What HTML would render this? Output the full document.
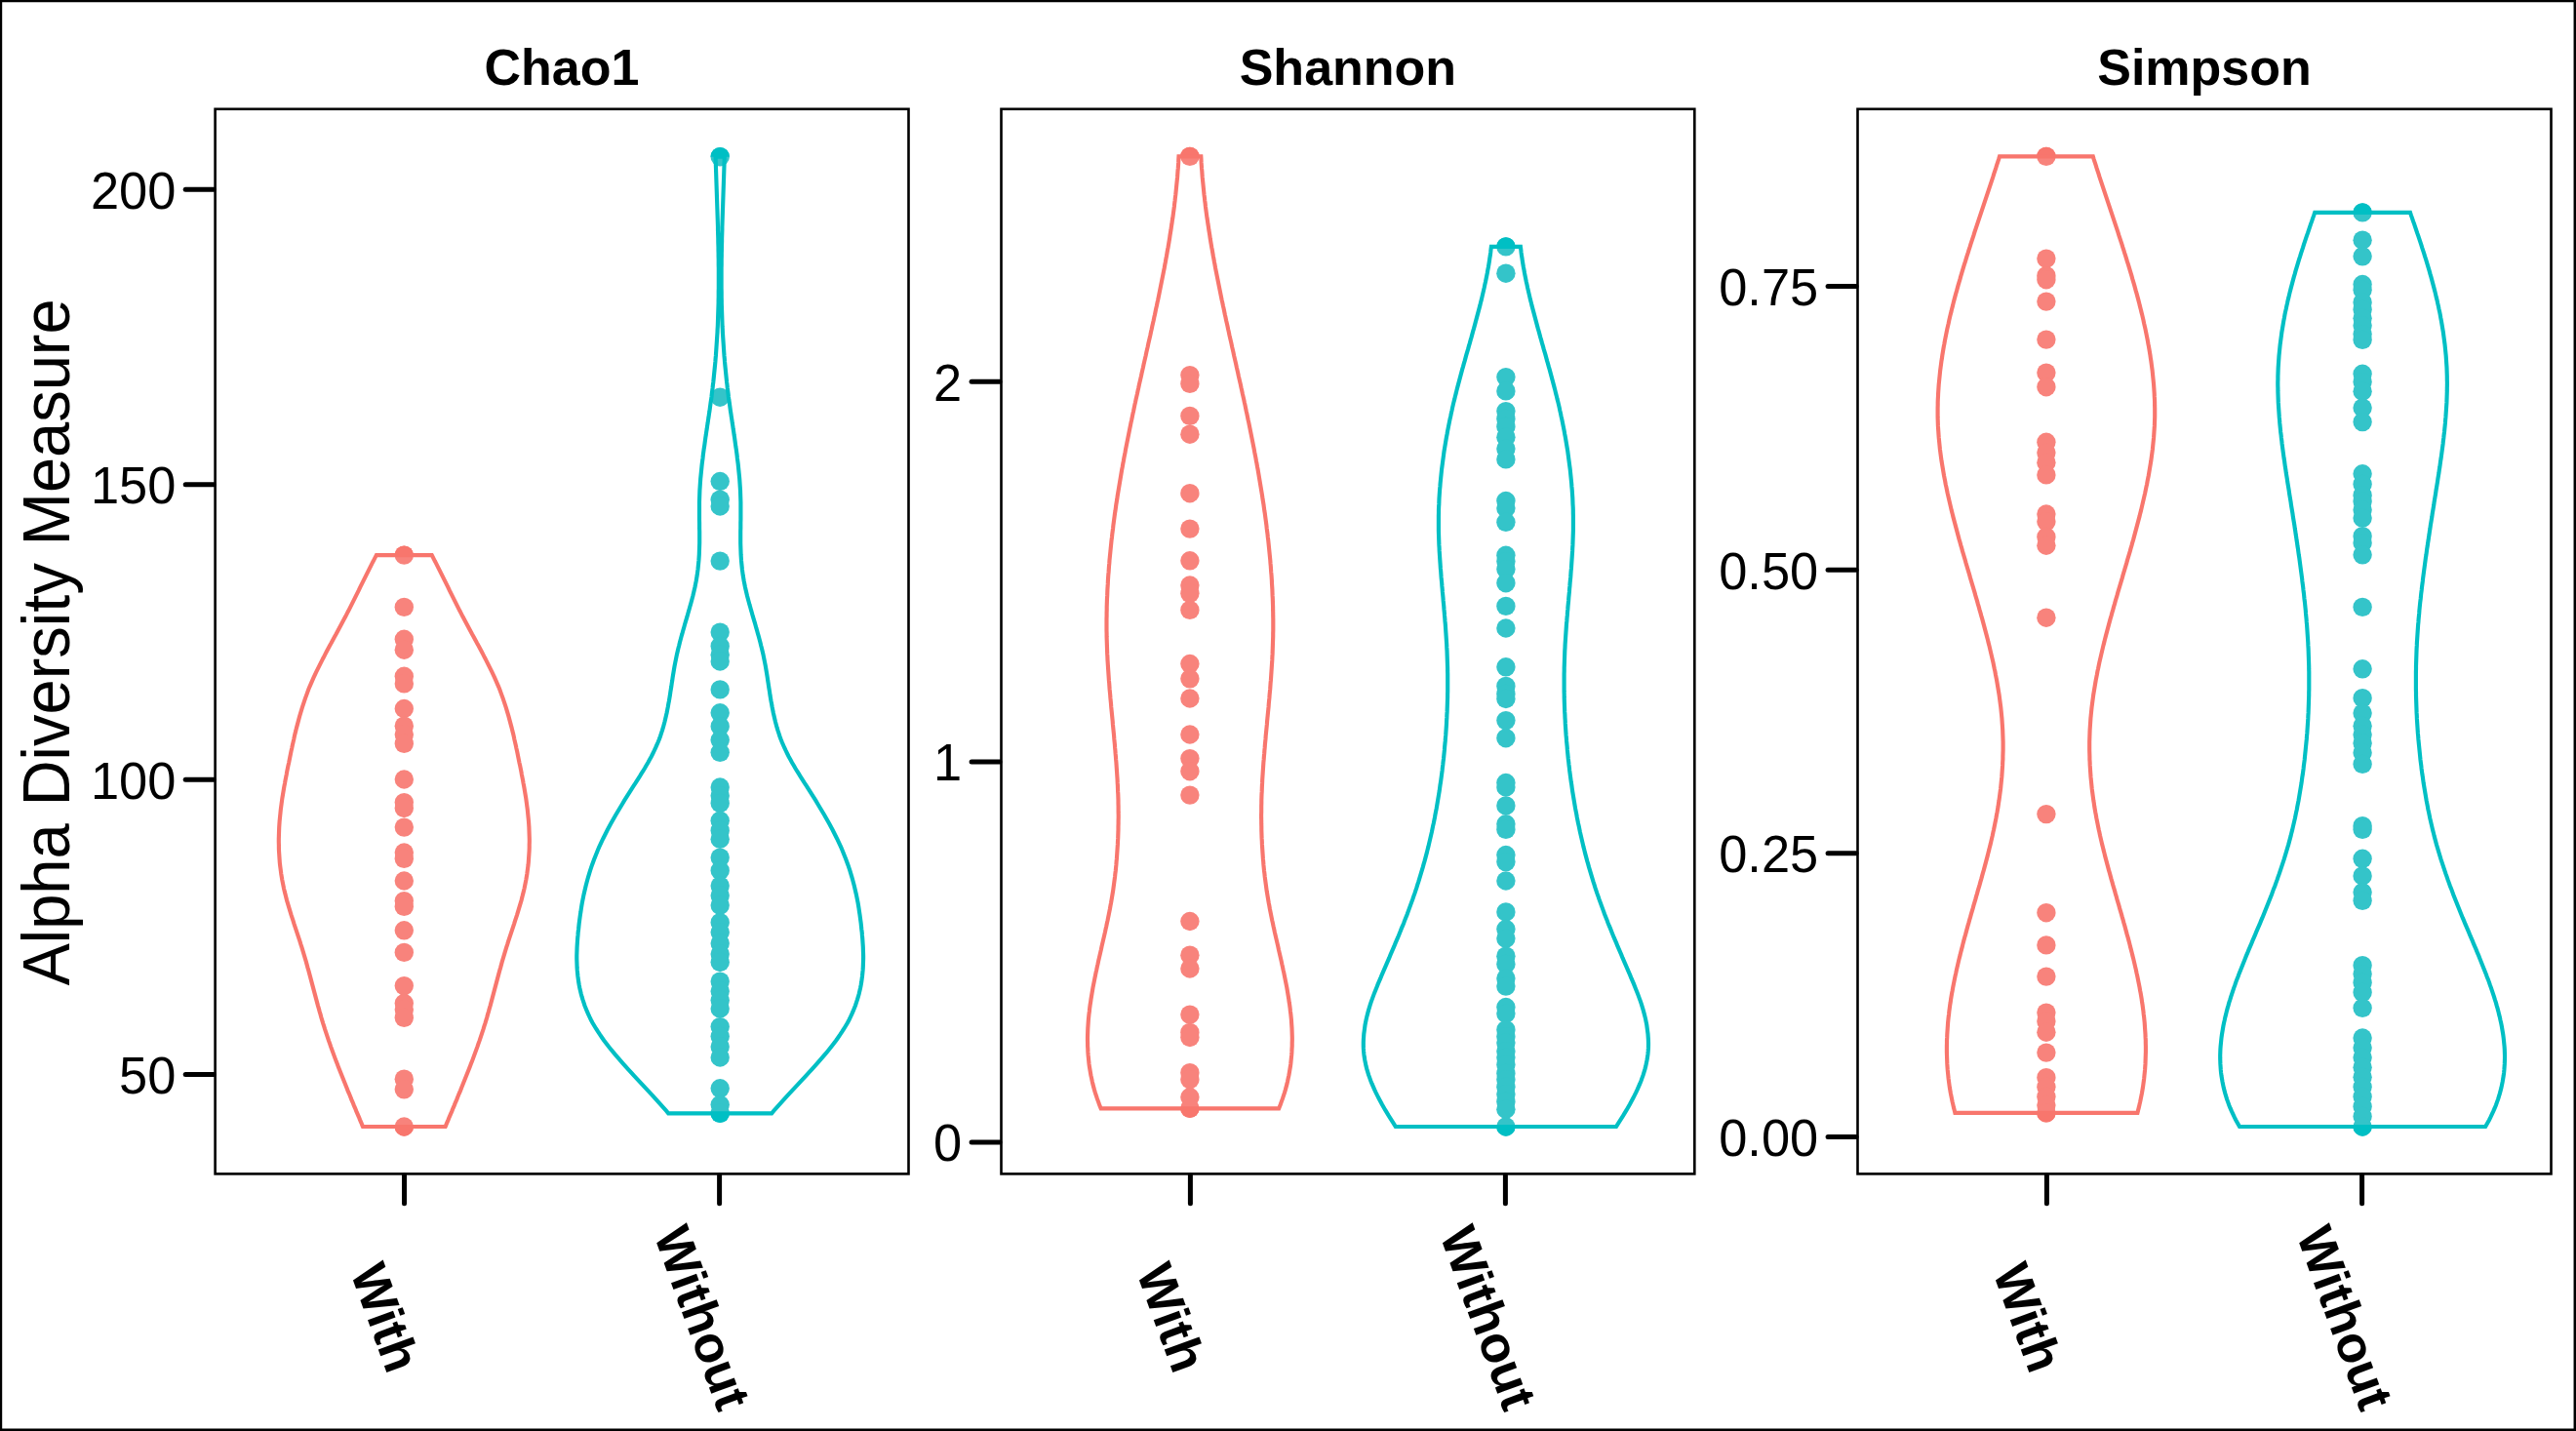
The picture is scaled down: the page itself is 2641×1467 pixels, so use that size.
<!DOCTYPE html>
<html><head><meta charset="utf-8"><title>Alpha Diversity Measure</title>
<style>html,body{margin:0;padding:0;background:#fff}svg{display:block}text{font-family:"Liberation Sans",sans-serif;fill:#000}.b{font-weight:bold}</style></head><body>
<svg xmlns="http://www.w3.org/2000/svg" width="2641" height="1467" viewBox="0 0 2641 1467">
<rect x="0" y="0" width="2641" height="1467" fill="#fff"/>
<path d="M0,0H2641V1467H0Z M2.2,2.2V1464.55H2638.55V2.2Z" fill="#000" fill-rule="evenodd"/>
<text transform="translate(70.6,658.5) rotate(-90) scale(1,1.05)" text-anchor="middle" font-size="65">Alpha Diversity Measure</text>
<text class="b" x="576.0" y="87" text-anchor="middle" font-size="52">Chao1</text>
<line x1="190.2" y1="194.3" x2="219.1" y2="194.3" stroke="#000" stroke-width="5.0" stroke-linecap="round"/>
<text transform="translate(180.3,213.7) scale(1,1.028)" text-anchor="end" font-size="52.4">200</text>
<line x1="190.2" y1="496.7" x2="219.1" y2="496.7" stroke="#000" stroke-width="5.0" stroke-linecap="round"/>
<text transform="translate(180.3,516.1) scale(1,1.028)" text-anchor="end" font-size="52.4">150</text>
<line x1="190.2" y1="799.2" x2="219.1" y2="799.2" stroke="#000" stroke-width="5.0" stroke-linecap="round"/>
<text transform="translate(180.3,818.6) scale(1,1.028)" text-anchor="end" font-size="52.4">100</text>
<line x1="190.2" y1="1101.6" x2="219.1" y2="1101.6" stroke="#000" stroke-width="5.0" stroke-linecap="round"/>
<text transform="translate(180.3,1121.0) scale(1,1.028)" text-anchor="end" font-size="52.4">50</text>
<text class="b" x="1381.9" y="87" text-anchor="middle" font-size="52">Shannon</text>
<line x1="996.1" y1="391.2" x2="1025.0" y2="391.2" stroke="#000" stroke-width="5.0" stroke-linecap="round"/>
<text transform="translate(986.2,410.6) scale(1,1.028)" text-anchor="end" font-size="52.4">2</text>
<line x1="996.1" y1="781.05" x2="1025.0" y2="781.05" stroke="#000" stroke-width="5.0" stroke-linecap="round"/>
<text transform="translate(986.2,800.4) scale(1,1.028)" text-anchor="end" font-size="52.4">1</text>
<line x1="996.1" y1="1170.9" x2="1025.0" y2="1170.9" stroke="#000" stroke-width="5.0" stroke-linecap="round"/>
<text transform="translate(986.2,1190.3) scale(1,1.028)" text-anchor="end" font-size="52.4">0</text>
<text class="b" x="2260.0" y="87" text-anchor="middle" font-size="52">Simpson</text>
<line x1="1874.1" y1="293.5" x2="1903.0" y2="293.5" stroke="#000" stroke-width="5.0" stroke-linecap="round"/>
<text transform="translate(1864.2,312.9) scale(1,1.028)" text-anchor="end" font-size="52.4">0.75</text>
<line x1="1874.1" y1="584.2" x2="1903.0" y2="584.2" stroke="#000" stroke-width="5.0" stroke-linecap="round"/>
<text transform="translate(1864.2,603.6) scale(1,1.028)" text-anchor="end" font-size="52.4">0.50</text>
<line x1="1874.1" y1="874.8" x2="1903.0" y2="874.8" stroke="#000" stroke-width="5.0" stroke-linecap="round"/>
<text transform="translate(1864.2,894.2) scale(1,1.028)" text-anchor="end" font-size="52.4">0.25</text>
<line x1="1874.1" y1="1165.5" x2="1903.0" y2="1165.5" stroke="#000" stroke-width="5.0" stroke-linecap="round"/>
<text transform="translate(1864.2,1184.9) scale(1,1.028)" text-anchor="end" font-size="52.4">0.00</text>
<g fill="#F8837C">
<circle cx="414.3" cy="569.1" r="9.7"/>
<circle cx="414.3" cy="622.4" r="9.7"/>
<circle cx="414.3" cy="655.3" r="9.7"/>
<circle cx="414.3" cy="666.2" r="9.7"/>
<circle cx="414.3" cy="693.3" r="9.7"/>
<circle cx="414.3" cy="700.9" r="9.7"/>
<circle cx="414.3" cy="726.5" r="9.7"/>
<circle cx="414.3" cy="744.2" r="9.7"/>
<circle cx="414.3" cy="753" r="9.7"/>
<circle cx="414.3" cy="762.3" r="9.7"/>
<circle cx="414.3" cy="799" r="9.7"/>
<circle cx="414.3" cy="822.6" r="9.7"/>
<circle cx="414.3" cy="828.5" r="9.7"/>
<circle cx="414.3" cy="848.1" r="9.7"/>
<circle cx="414.3" cy="874" r="9.7"/>
<circle cx="414.3" cy="880.3" r="9.7"/>
<circle cx="414.3" cy="903" r="9.7"/>
<circle cx="414.3" cy="923.6" r="9.7"/>
<circle cx="414.3" cy="929.4" r="9.7"/>
<circle cx="414.3" cy="953.8" r="9.7"/>
<circle cx="414.3" cy="976.4" r="9.7"/>
<circle cx="414.3" cy="1010.6" r="9.7"/>
<circle cx="414.3" cy="1028.5" r="9.7"/>
<circle cx="414.3" cy="1035" r="9.7"/>
<circle cx="414.3" cy="1043.3" r="9.7"/>
<circle cx="414.3" cy="1106.2" r="9.7"/>
<circle cx="414.3" cy="1116.8" r="9.7"/>
<circle cx="414.3" cy="1155.0" r="9.7"/>
</g>
<path d="M404.6,569.1 A9.7,9.7 0 0 1 424.0,569.1 Z" fill="#F8766D"/>
<path d="M404.6,1155.0 A9.7,9.7 0 0 0 424.0,1155.0 Z" fill="#F8766D"/>
<g fill="#34C4C9">
<circle cx="738.2" cy="160.7" r="9.7"/>
<circle cx="738.2" cy="407.2" r="9.7"/>
<circle cx="738.2" cy="493.5" r="9.7"/>
<circle cx="738.2" cy="512.2" r="9.7"/>
<circle cx="738.2" cy="519" r="9.7"/>
<circle cx="738.2" cy="575.1" r="9.7"/>
<circle cx="738.2" cy="648.1" r="9.7"/>
<circle cx="738.2" cy="662.4" r="9.7"/>
<circle cx="738.2" cy="671.2" r="9.7"/>
<circle cx="738.2" cy="678" r="9.7"/>
<circle cx="738.2" cy="706.9" r="9.7"/>
<circle cx="738.2" cy="730.8" r="9.7"/>
<circle cx="738.2" cy="744.7" r="9.7"/>
<circle cx="738.2" cy="758.5" r="9.7"/>
<circle cx="738.2" cy="771.3" r="9.7"/>
<circle cx="738.2" cy="807" r="9.7"/>
<circle cx="738.2" cy="815.8" r="9.7"/>
<circle cx="738.2" cy="823.4" r="9.7"/>
<circle cx="738.2" cy="841.3" r="9.7"/>
<circle cx="738.2" cy="851.4" r="9.7"/>
<circle cx="738.2" cy="860.2" r="9.7"/>
<circle cx="738.2" cy="879.1" r="9.7"/>
<circle cx="738.2" cy="892.4" r="9.7"/>
<circle cx="738.2" cy="908" r="9.7"/>
<circle cx="738.2" cy="918" r="9.7"/>
<circle cx="738.2" cy="928.1" r="9.7"/>
<circle cx="738.2" cy="945.7" r="9.7"/>
<circle cx="738.2" cy="955.8" r="9.7"/>
<circle cx="738.2" cy="967" r="9.7"/>
<circle cx="738.2" cy="978" r="9.7"/>
<circle cx="738.2" cy="986.5" r="9.7"/>
<circle cx="738.2" cy="1006.1" r="9.7"/>
<circle cx="738.2" cy="1016" r="9.7"/>
<circle cx="738.2" cy="1025.5" r="9.7"/>
<circle cx="738.2" cy="1034" r="9.7"/>
<circle cx="738.2" cy="1052.6" r="9.7"/>
<circle cx="738.2" cy="1062.5" r="9.7"/>
<circle cx="738.2" cy="1073" r="9.7"/>
<circle cx="738.2" cy="1084" r="9.7"/>
<circle cx="738.2" cy="1115.8" r="9.7"/>
<circle cx="738.2" cy="1132.5" r="9.7"/>
<circle cx="738.2" cy="1141.3" r="9.7"/>
</g>
<path d="M728.5,160.7 A9.7,9.7 0 0 1 747.9000000000001,160.7 Z" fill="#00BFC4"/>
<path d="M728.5,1141.3 A9.7,9.7 0 0 0 747.9000000000001,1141.3 Z" fill="#00BFC4"/>
<g fill="#F8837C">
<circle cx="1219.9" cy="160.4" r="9.7"/>
<circle cx="1219.9" cy="384.6" r="9.7"/>
<circle cx="1219.9" cy="393.4" r="9.7"/>
<circle cx="1219.9" cy="426.4" r="9.7"/>
<circle cx="1219.9" cy="445.2" r="9.7"/>
<circle cx="1219.9" cy="505.7" r="9.7"/>
<circle cx="1219.9" cy="542.1" r="9.7"/>
<circle cx="1219.9" cy="574.8" r="9.7"/>
<circle cx="1219.9" cy="600" r="9.7"/>
<circle cx="1219.9" cy="608.3" r="9.7"/>
<circle cx="1219.9" cy="625.4" r="9.7"/>
<circle cx="1219.9" cy="680.5" r="9.7"/>
<circle cx="1219.9" cy="695.8" r="9.7"/>
<circle cx="1219.9" cy="716" r="9.7"/>
<circle cx="1219.9" cy="753" r="9.7"/>
<circle cx="1219.9" cy="777.6" r="9.7"/>
<circle cx="1219.9" cy="790.7" r="9.7"/>
<circle cx="1219.9" cy="815.1" r="9.7"/>
<circle cx="1219.9" cy="944.5" r="9.7"/>
<circle cx="1219.9" cy="979.2" r="9.7"/>
<circle cx="1219.9" cy="993" r="9.7"/>
<circle cx="1219.9" cy="1040.1" r="9.7"/>
<circle cx="1219.9" cy="1058.4" r="9.7"/>
<circle cx="1219.9" cy="1063.5" r="9.7"/>
<circle cx="1219.9" cy="1099.7" r="9.7"/>
<circle cx="1219.9" cy="1106.7" r="9.7"/>
<circle cx="1219.9" cy="1124.8" r="9.7"/>
<circle cx="1219.9" cy="1136.2" r="9.7"/>
</g>
<path d="M1210.2,160.4 A9.7,9.7 0 0 1 1229.6000000000001,160.4 Z" fill="#F8766D"/>
<path d="M1210.2,1136.4 A9.7,9.7 0 0 0 1229.6000000000001,1136.4 Z" fill="#F8766D"/>
<g fill="#34C4C9">
<circle cx="1543.9" cy="252.9" r="9.7"/>
<circle cx="1543.9" cy="280.2" r="9.7"/>
<circle cx="1543.9" cy="386.6" r="9.7"/>
<circle cx="1543.9" cy="400.9" r="9.7"/>
<circle cx="1543.9" cy="421.6" r="9.7"/>
<circle cx="1543.9" cy="429.4" r="9.7"/>
<circle cx="1543.9" cy="437.4" r="9.7"/>
<circle cx="1543.9" cy="448.2" r="9.7"/>
<circle cx="1543.9" cy="460.1" r="9.7"/>
<circle cx="1543.9" cy="470.9" r="9.7"/>
<circle cx="1543.9" cy="513.5" r="9.7"/>
<circle cx="1543.9" cy="521" r="9.7"/>
<circle cx="1543.9" cy="535.3" r="9.7"/>
<circle cx="1543.9" cy="569.3" r="9.7"/>
<circle cx="1543.9" cy="575.6" r="9.7"/>
<circle cx="1543.9" cy="583.6" r="9.7"/>
<circle cx="1543.9" cy="597.7" r="9.7"/>
<circle cx="1543.9" cy="621.4" r="9.7"/>
<circle cx="1543.9" cy="644" r="9.7"/>
<circle cx="1543.9" cy="683.8" r="9.7"/>
<circle cx="1543.9" cy="703.4" r="9.7"/>
<circle cx="1543.9" cy="711.4" r="9.7"/>
<circle cx="1543.9" cy="716.5" r="9.7"/>
<circle cx="1543.9" cy="738.6" r="9.7"/>
<circle cx="1543.9" cy="756.7" r="9.7"/>
<circle cx="1543.9" cy="802.5" r="9.7"/>
<circle cx="1543.9" cy="807" r="9.7"/>
<circle cx="1543.9" cy="825.9" r="9.7"/>
<circle cx="1543.9" cy="844.8" r="9.7"/>
<circle cx="1543.9" cy="850.4" r="9.7"/>
<circle cx="1543.9" cy="876.5" r="9.7"/>
<circle cx="1543.9" cy="883.6" r="9.7"/>
<circle cx="1543.9" cy="903" r="9.7"/>
<circle cx="1543.9" cy="934.9" r="9.7"/>
<circle cx="1543.9" cy="952.5" r="9.7"/>
<circle cx="1543.9" cy="962.1" r="9.7"/>
<circle cx="1543.9" cy="980.2" r="9.7"/>
<circle cx="1543.9" cy="988.5" r="9.7"/>
<circle cx="1543.9" cy="1003.1" r="9.7"/>
<circle cx="1543.9" cy="1011.1" r="9.7"/>
<circle cx="1543.9" cy="1032.5" r="9.7"/>
<circle cx="1543.9" cy="1039.1" r="9.7"/>
<circle cx="1543.9" cy="1055.7" r="9.7"/>
<circle cx="1543.9" cy="1062.7" r="9.7"/>
<circle cx="1543.9" cy="1069" r="9.7"/>
<circle cx="1543.9" cy="1077.8" r="9.7"/>
<circle cx="1543.9" cy="1084.1" r="9.7"/>
<circle cx="1543.9" cy="1091.6" r="9.7"/>
<circle cx="1543.9" cy="1100.4" r="9.7"/>
<circle cx="1543.9" cy="1106.7" r="9.7"/>
<circle cx="1543.9" cy="1114.3" r="9.7"/>
<circle cx="1543.9" cy="1121.8" r="9.7"/>
<circle cx="1543.9" cy="1129.4" r="9.7"/>
<circle cx="1543.9" cy="1137.2" r="9.7"/>
<circle cx="1543.9" cy="1155.0" r="9.7"/>
</g>
<path d="M1534.2,252.9 A9.7,9.7 0 0 1 1553.6000000000001,252.9 Z" fill="#00BFC4"/>
<path d="M1534.2,1155.0 A9.7,9.7 0 0 0 1553.6000000000001,1155.0 Z" fill="#00BFC4"/>
<g fill="#F8837C">
<circle cx="2097.9" cy="160.4" r="9.7"/>
<circle cx="2097.9" cy="265.1" r="9.7"/>
<circle cx="2097.9" cy="282.7" r="9.7"/>
<circle cx="2097.9" cy="286.7" r="9.7"/>
<circle cx="2097.9" cy="309.1" r="9.7"/>
<circle cx="2097.9" cy="348.1" r="9.7"/>
<circle cx="2097.9" cy="382.1" r="9.7"/>
<circle cx="2097.9" cy="396.7" r="9.7"/>
<circle cx="2097.9" cy="453.3" r="9.7"/>
<circle cx="2097.9" cy="464.1" r="9.7"/>
<circle cx="2097.9" cy="474.2" r="9.7"/>
<circle cx="2097.9" cy="486.9" r="9.7"/>
<circle cx="2097.9" cy="527" r="9.7"/>
<circle cx="2097.9" cy="534.8" r="9.7"/>
<circle cx="2097.9" cy="550.4" r="9.7"/>
<circle cx="2097.9" cy="559.2" r="9.7"/>
<circle cx="2097.9" cy="633.2" r="9.7"/>
<circle cx="2097.9" cy="834.6" r="9.7"/>
<circle cx="2097.9" cy="935.7" r="9.7"/>
<circle cx="2097.9" cy="968.9" r="9.7"/>
<circle cx="2097.9" cy="1001.1" r="9.7"/>
<circle cx="2097.9" cy="1038.1" r="9.7"/>
<circle cx="2097.9" cy="1046.9" r="9.7"/>
<circle cx="2097.9" cy="1058.2" r="9.7"/>
<circle cx="2097.9" cy="1079.1" r="9.7"/>
<circle cx="2097.9" cy="1104.7" r="9.7"/>
<circle cx="2097.9" cy="1114.3" r="9.7"/>
<circle cx="2097.9" cy="1124.3" r="9.7"/>
<circle cx="2097.9" cy="1133.1" r="9.7"/>
<circle cx="2097.9" cy="1140.9" r="9.7"/>
</g>
<path d="M2088.2000000000003,160.4 A9.7,9.7 0 0 1 2107.6,160.4 Z" fill="#F8766D"/>
<path d="M2088.2000000000003,1140.9 A9.7,9.7 0 0 0 2107.6,1140.9 Z" fill="#F8766D"/>
<g fill="#34C4C9">
<circle cx="2422.1" cy="217.9" r="9.7"/>
<circle cx="2422.1" cy="246.2" r="9.7"/>
<circle cx="2422.1" cy="262.8" r="9.7"/>
<circle cx="2422.1" cy="291.5" r="9.7"/>
<circle cx="2422.1" cy="297.3" r="9.7"/>
<circle cx="2422.1" cy="309.9" r="9.7"/>
<circle cx="2422.1" cy="317.4" r="9.7"/>
<circle cx="2422.1" cy="326.2" r="9.7"/>
<circle cx="2422.1" cy="333.8" r="9.7"/>
<circle cx="2422.1" cy="342.6" r="9.7"/>
<circle cx="2422.1" cy="348.4" r="9.7"/>
<circle cx="2422.1" cy="383.3" r="9.7"/>
<circle cx="2422.1" cy="391.6" r="9.7"/>
<circle cx="2422.1" cy="401.2" r="9.7"/>
<circle cx="2422.1" cy="418.1" r="9.7"/>
<circle cx="2422.1" cy="432.6" r="9.7"/>
<circle cx="2422.1" cy="485.8" r="9.7"/>
<circle cx="2422.1" cy="496.4" r="9.7"/>
<circle cx="2422.1" cy="507.7" r="9.7"/>
<circle cx="2422.1" cy="514" r="9.7"/>
<circle cx="2422.1" cy="522.8" r="9.7"/>
<circle cx="2422.1" cy="531.1" r="9.7"/>
<circle cx="2422.1" cy="549.7" r="9.7"/>
<circle cx="2422.1" cy="556.7" r="9.7"/>
<circle cx="2422.1" cy="568.8" r="9.7"/>
<circle cx="2422.1" cy="622.4" r="9.7"/>
<circle cx="2422.1" cy="685.8" r="9.7"/>
<circle cx="2422.1" cy="715.7" r="9.7"/>
<circle cx="2422.1" cy="731.1" r="9.7"/>
<circle cx="2422.1" cy="744.2" r="9.7"/>
<circle cx="2422.1" cy="753" r="9.7"/>
<circle cx="2422.1" cy="761.8" r="9.7"/>
<circle cx="2422.1" cy="771.8" r="9.7"/>
<circle cx="2422.1" cy="783.4" r="9.7"/>
<circle cx="2422.1" cy="846.7" r="9.7"/>
<circle cx="2422.1" cy="850.4" r="9.7"/>
<circle cx="2422.1" cy="880.3" r="9.7"/>
<circle cx="2422.1" cy="897.9" r="9.7"/>
<circle cx="2422.1" cy="914.8" r="9.7"/>
<circle cx="2422.1" cy="923.3" r="9.7"/>
<circle cx="2422.1" cy="989.7" r="9.7"/>
<circle cx="2422.1" cy="998.6" r="9.7"/>
<circle cx="2422.1" cy="1007.4" r="9.7"/>
<circle cx="2422.1" cy="1017.4" r="9.7"/>
<circle cx="2422.1" cy="1033.3" r="9.7"/>
<circle cx="2422.1" cy="1064" r="9.7"/>
<circle cx="2422.1" cy="1074" r="9.7"/>
<circle cx="2422.1" cy="1084.1" r="9.7"/>
<circle cx="2422.1" cy="1094.2" r="9.7"/>
<circle cx="2422.1" cy="1104.2" r="9.7"/>
<circle cx="2422.1" cy="1114.3" r="9.7"/>
<circle cx="2422.1" cy="1124.3" r="9.7"/>
<circle cx="2422.1" cy="1134.4" r="9.7"/>
<circle cx="2422.1" cy="1144.5" r="9.7"/>
<circle cx="2422.1" cy="1155.0" r="9.7"/>
</g>
<path d="M2412.4,217.9 A9.7,9.7 0 0 1 2431.7999999999997,217.9 Z" fill="#00BFC4"/>
<path d="M2412.4,1155.0 A9.7,9.7 0 0 0 2431.7999999999997,1155.0 Z" fill="#00BFC4"/>
<path d="M442.7,569.1 L444.3,572.1 L445.8,575.1 L447.4,578.1 L448.9,581.1 L450.4,584.1 L451.9,587.1 L453.4,590.1 L454.9,593.1 L456.4,596.1 L457.9,599.1 L459.4,602.1 L460.8,605.1 L462.3,608.1 L463.8,611.1 L465.3,614.1 L466.8,617.1 L468.3,620.1 L469.8,623.1 L471.3,626.1 L472.9,629.1 L474.4,632.1 L476.0,635.1 L477.6,638.1 L479.2,641.1 L480.8,644.1 L482.4,647.1 L484.0,650.1 L485.7,653.1 L487.3,656.1 L488.9,659.1 L490.6,662.1 L492.2,665.1 L493.8,668.1 L495.4,671.1 L496.9,674.1 L498.5,677.1 L500.0,680.1 L501.5,683.1 L503.0,686.1 L504.5,689.1 L505.9,692.1 L507.3,695.1 L508.6,698.1 L509.9,701.1 L511.2,704.1 L512.4,707.1 L513.5,710.1 L514.6,713.1 L515.7,716.1 L516.7,719.1 L517.7,722.1 L518.7,725.1 L519.6,728.1 L520.5,731.1 L521.4,734.1 L522.2,737.1 L523.0,740.1 L523.8,743.1 L524.6,746.1 L525.3,749.1 L526.1,752.1 L526.8,755.1 L527.4,758.1 L528.1,761.1 L528.8,764.1 L529.4,767.1 L530.1,770.1 L530.7,773.1 L531.3,776.1 L531.9,779.1 L532.5,782.1 L533.2,785.1 L533.8,788.1 L534.4,791.1 L534.9,794.1 L535.5,797.1 L536.1,800.1 L536.6,803.1 L537.2,806.1 L537.7,809.1 L538.2,812.1 L538.7,815.1 L539.2,818.1 L539.6,821.1 L540.0,824.1 L540.4,827.1 L540.8,830.1 L541.1,833.1 L541.4,836.1 L541.7,839.1 L542.0,842.1 L542.2,845.1 L542.4,848.1 L542.5,851.1 L542.6,854.1 L542.7,857.1 L542.8,860.1 L542.8,863.1 L542.7,866.1 L542.7,869.1 L542.6,872.1 L542.4,875.1 L542.2,878.1 L542.0,881.1 L541.8,884.1 L541.5,887.1 L541.1,890.1 L540.7,893.1 L540.3,896.1 L539.8,899.1 L539.3,902.1 L538.7,905.1 L538.1,908.1 L537.5,911.1 L536.8,914.1 L536.0,917.1 L535.3,920.1 L534.5,923.1 L533.6,926.1 L532.7,929.1 L531.8,932.1 L530.9,935.1 L530.0,938.1 L529.0,941.1 L528.0,944.1 L527.1,947.1 L526.1,950.1 L525.1,953.1 L524.1,956.1 L523.1,959.1 L522.1,962.1 L521.1,965.1 L520.2,968.1 L519.2,971.1 L518.3,974.1 L517.4,977.1 L516.5,980.1 L515.6,983.1 L514.7,986.1 L513.9,989.1 L513.1,992.1 L512.2,995.1 L511.4,998.1 L510.6,1001.1 L509.8,1004.1 L509.0,1007.1 L508.2,1010.1 L507.4,1013.1 L506.6,1016.1 L505.8,1019.1 L505.0,1022.1 L504.2,1025.1 L503.4,1028.1 L502.6,1031.1 L501.7,1034.1 L500.9,1037.1 L500.0,1040.1 L499.2,1043.1 L498.3,1046.1 L497.4,1049.1 L496.4,1052.1 L495.5,1055.1 L494.5,1058.1 L493.5,1061.1 L492.5,1064.1 L491.5,1067.1 L490.4,1070.1 L489.4,1073.1 L488.3,1076.1 L487.2,1079.1 L486.1,1082.1 L485.0,1085.1 L483.9,1088.1 L482.7,1091.1 L481.6,1094.1 L480.4,1097.1 L479.2,1100.1 L478.0,1103.1 L476.8,1106.1 L475.6,1109.1 L474.4,1112.1 L473.2,1115.1 L472.0,1118.1 L470.7,1121.1 L469.5,1124.1 L468.3,1127.1 L467.0,1130.1 L465.8,1133.1 L464.5,1136.1 L463.3,1139.1 L462.0,1142.1 L460.7,1145.1 L459.5,1148.1 L458.2,1151.1 L457.0,1154.1 L456.6,1155.0 L372.0,1155.0 L371.6,1154.1 L370.4,1151.1 L369.1,1148.1 L367.9,1145.1 L366.6,1142.1 L365.3,1139.1 L364.1,1136.1 L362.8,1133.1 L361.6,1130.1 L360.3,1127.1 L359.1,1124.1 L357.9,1121.1 L356.6,1118.1 L355.4,1115.1 L354.2,1112.1 L353.0,1109.1 L351.8,1106.1 L350.6,1103.1 L349.4,1100.1 L348.2,1097.1 L347.0,1094.1 L345.9,1091.1 L344.7,1088.1 L343.6,1085.1 L342.5,1082.1 L341.4,1079.1 L340.3,1076.1 L339.2,1073.1 L338.2,1070.1 L337.1,1067.1 L336.1,1064.1 L335.1,1061.1 L334.1,1058.1 L333.1,1055.1 L332.2,1052.1 L331.2,1049.1 L330.3,1046.1 L329.4,1043.1 L328.6,1040.1 L327.7,1037.1 L326.9,1034.1 L326.0,1031.1 L325.2,1028.1 L324.4,1025.1 L323.6,1022.1 L322.8,1019.1 L322.0,1016.1 L321.2,1013.1 L320.4,1010.1 L319.6,1007.1 L318.8,1004.1 L318.0,1001.1 L317.2,998.1 L316.4,995.1 L315.5,992.1 L314.7,989.1 L313.9,986.1 L313.0,983.1 L312.1,980.1 L311.2,977.1 L310.3,974.1 L309.4,971.1 L308.4,968.1 L307.5,965.1 L306.5,962.1 L305.5,959.1 L304.5,956.1 L303.5,953.1 L302.5,950.1 L301.5,947.1 L300.6,944.1 L299.6,941.1 L298.6,938.1 L297.7,935.1 L296.8,932.1 L295.9,929.1 L295.0,926.1 L294.1,923.1 L293.3,920.1 L292.6,917.1 L291.8,914.1 L291.1,911.1 L290.5,908.1 L289.9,905.1 L289.3,902.1 L288.8,899.1 L288.3,896.1 L287.9,893.1 L287.5,890.1 L287.1,887.1 L286.8,884.1 L286.6,881.1 L286.4,878.1 L286.2,875.1 L286.0,872.1 L285.9,869.1 L285.9,866.1 L285.8,863.1 L285.8,860.1 L285.9,857.1 L286.0,854.1 L286.1,851.1 L286.2,848.1 L286.4,845.1 L286.6,842.1 L286.9,839.1 L287.2,836.1 L287.5,833.1 L287.8,830.1 L288.2,827.1 L288.6,824.1 L289.0,821.1 L289.4,818.1 L289.9,815.1 L290.4,812.1 L290.9,809.1 L291.4,806.1 L292.0,803.1 L292.5,800.1 L293.1,797.1 L293.7,794.1 L294.2,791.1 L294.8,788.1 L295.4,785.1 L296.1,782.1 L296.7,779.1 L297.3,776.1 L297.9,773.1 L298.5,770.1 L299.2,767.1 L299.8,764.1 L300.5,761.1 L301.2,758.1 L301.8,755.1 L302.5,752.1 L303.3,749.1 L304.0,746.1 L304.8,743.1 L305.6,740.1 L306.4,737.1 L307.2,734.1 L308.1,731.1 L309.0,728.1 L309.9,725.1 L310.9,722.1 L311.9,719.1 L312.9,716.1 L314.0,713.1 L315.1,710.1 L316.2,707.1 L317.4,704.1 L318.7,701.1 L320.0,698.1 L321.3,695.1 L322.7,692.1 L324.1,689.1 L325.6,686.1 L327.1,683.1 L328.6,680.1 L330.1,677.1 L331.7,674.1 L333.2,671.1 L334.8,668.1 L336.4,665.1 L338.0,662.1 L339.7,659.1 L341.3,656.1 L342.9,653.1 L344.6,650.1 L346.2,647.1 L347.8,644.1 L349.4,641.1 L351.0,638.1 L352.6,635.1 L354.2,632.1 L355.7,629.1 L357.3,626.1 L358.8,623.1 L360.3,620.1 L361.8,617.1 L363.3,614.1 L364.8,611.1 L366.3,608.1 L367.8,605.1 L369.2,602.1 L370.7,599.1 L372.2,596.1 L373.7,593.1 L375.2,590.1 L376.7,587.1 L378.2,584.1 L379.7,581.1 L381.2,578.1 L382.8,575.1 L384.3,572.1 L385.9,569.1 Z" fill="none" stroke="#F8766D" stroke-width="4.15" stroke-linejoin="miter" stroke-miterlimit="10"/>
<path d="M742.8,160.7 L742.7,163.7 L742.6,166.7 L742.5,169.7 L742.4,172.7 L742.3,175.7 L742.2,178.7 L742.1,181.7 L742.0,184.7 L741.9,187.7 L741.8,190.7 L741.7,193.7 L741.6,196.7 L741.5,199.7 L741.4,202.7 L741.3,205.7 L741.2,208.7 L741.1,211.7 L741.0,214.7 L740.9,217.7 L740.8,220.7 L740.7,223.7 L740.6,226.7 L740.5,229.7 L740.4,232.7 L740.4,235.7 L740.3,238.7 L740.2,241.7 L740.1,244.7 L740.1,247.7 L740.0,250.7 L739.9,253.7 L739.9,256.7 L739.8,259.7 L739.8,262.7 L739.7,265.7 L739.7,268.7 L739.7,271.7 L739.6,274.7 L739.6,277.7 L739.6,280.7 L739.6,283.7 L739.6,286.7 L739.6,289.7 L739.6,292.7 L739.6,295.7 L739.7,298.7 L739.7,301.7 L739.7,304.7 L739.8,307.7 L739.8,310.7 L739.9,313.7 L740.0,316.7 L740.1,319.7 L740.2,322.7 L740.3,325.7 L740.4,328.7 L740.5,331.7 L740.6,334.7 L740.8,337.7 L740.9,340.7 L741.1,343.7 L741.3,346.7 L741.5,349.7 L741.7,352.7 L741.9,355.7 L742.1,358.7 L742.3,361.7 L742.5,364.7 L742.8,367.7 L743.0,370.7 L743.3,373.7 L743.6,376.7 L743.9,379.7 L744.2,382.7 L744.5,385.7 L744.8,388.7 L745.1,391.7 L745.5,394.7 L745.8,397.7 L746.2,400.7 L746.6,403.7 L746.9,406.7 L747.3,409.7 L747.8,412.7 L748.2,415.7 L748.6,418.7 L749.0,421.7 L749.5,424.7 L749.9,427.7 L750.4,430.7 L750.8,433.7 L751.3,436.7 L751.7,439.7 L752.2,442.7 L752.6,445.7 L753.1,448.7 L753.5,451.7 L753.9,454.7 L754.3,457.7 L754.8,460.7 L755.2,463.7 L755.6,466.7 L755.9,469.7 L756.3,472.7 L756.7,475.7 L757.0,478.7 L757.3,481.7 L757.6,484.7 L757.9,487.7 L758.2,490.7 L758.4,493.7 L758.6,496.7 L758.8,499.7 L759.0,502.7 L759.1,505.7 L759.2,508.7 L759.3,511.7 L759.4,514.7 L759.4,517.7 L759.4,520.7 L759.4,523.7 L759.4,526.7 L759.4,529.7 L759.4,532.7 L759.3,535.7 L759.3,538.7 L759.3,541.7 L759.2,544.7 L759.2,547.7 L759.2,550.7 L759.2,553.7 L759.2,556.7 L759.3,559.7 L759.4,562.7 L759.5,565.7 L759.6,568.7 L759.8,571.7 L760.0,574.7 L760.3,577.7 L760.6,580.7 L760.9,583.7 L761.3,586.7 L761.7,589.7 L762.2,592.7 L762.7,595.7 L763.3,598.7 L763.9,601.7 L764.6,604.7 L765.3,607.7 L766.0,610.7 L766.8,613.7 L767.6,616.7 L768.4,619.7 L769.3,622.7 L770.1,625.7 L771.0,628.7 L771.8,631.7 L772.7,634.7 L773.6,637.7 L774.5,640.7 L775.3,643.7 L776.2,646.7 L777.0,649.7 L777.9,652.7 L778.7,655.7 L779.5,658.7 L780.2,661.7 L781.0,664.7 L781.7,667.7 L782.4,670.7 L783.0,673.7 L783.6,676.7 L784.2,679.7 L784.8,682.7 L785.3,685.7 L785.8,688.7 L786.3,691.7 L786.8,694.7 L787.2,697.7 L787.7,700.7 L788.1,703.7 L788.6,706.7 L789.1,709.7 L789.5,712.7 L790.0,715.7 L790.5,718.7 L791.1,721.7 L791.6,724.7 L792.2,727.7 L792.8,730.7 L793.5,733.7 L794.2,736.7 L794.9,739.7 L795.7,742.7 L796.5,745.7 L797.4,748.7 L798.4,751.7 L799.4,754.7 L800.5,757.7 L801.7,760.7 L803.0,763.7 L804.3,766.7 L805.7,769.7 L807.2,772.7 L808.7,775.7 L810.4,778.7 L812.0,781.7 L813.8,784.7 L815.5,787.7 L817.3,790.7 L819.2,793.7 L821.0,796.7 L822.9,799.7 L824.8,802.7 L826.8,805.7 L828.7,808.7 L830.6,811.7 L832.5,814.7 L834.4,817.7 L836.3,820.7 L838.1,823.7 L839.9,826.7 L841.7,829.7 L843.5,832.7 L845.3,835.7 L847.0,838.7 L848.7,841.7 L850.4,844.7 L852.0,847.7 L853.6,850.7 L855.1,853.7 L856.6,856.7 L858.1,859.7 L859.5,862.7 L860.9,865.7 L862.3,868.7 L863.6,871.7 L864.8,874.7 L866.0,877.7 L867.2,880.7 L868.3,883.7 L869.4,886.7 L870.4,889.7 L871.4,892.7 L872.3,895.7 L873.2,898.7 L874.1,901.7 L874.9,904.7 L875.7,907.7 L876.4,910.7 L877.1,913.7 L877.8,916.7 L878.4,919.7 L879.0,922.7 L879.6,925.7 L880.1,928.7 L880.6,931.7 L881.0,934.7 L881.5,937.7 L881.9,940.7 L882.3,943.7 L882.7,946.7 L883.0,949.7 L883.3,952.7 L883.7,955.7 L883.9,958.7 L884.2,961.7 L884.4,964.7 L884.6,967.7 L884.8,970.7 L884.9,973.7 L885.0,976.7 L885.1,979.7 L885.1,982.7 L885.0,985.7 L884.9,988.7 L884.8,991.7 L884.6,994.7 L884.3,997.7 L884.0,1000.7 L883.6,1003.7 L883.2,1006.7 L882.7,1009.7 L882.1,1012.7 L881.4,1015.7 L880.7,1018.7 L879.9,1021.7 L879.0,1024.7 L878.0,1027.7 L877.0,1030.7 L875.8,1033.7 L874.6,1036.7 L873.3,1039.7 L871.9,1042.7 L870.4,1045.7 L868.8,1048.7 L867.0,1051.7 L865.2,1054.7 L863.3,1057.7 L861.3,1060.7 L859.2,1063.7 L857.1,1066.7 L854.8,1069.7 L852.5,1072.7 L850.1,1075.7 L847.7,1078.7 L845.2,1081.7 L842.6,1084.7 L840.0,1087.7 L837.4,1090.7 L834.7,1093.7 L832.0,1096.7 L829.2,1099.7 L826.5,1102.7 L823.7,1105.7 L820.9,1108.7 L818.1,1111.7 L815.3,1114.7 L812.5,1117.7 L809.7,1120.7 L806.9,1123.7 L804.2,1126.7 L801.5,1129.7 L798.8,1132.7 L796.1,1135.7 L793.4,1138.7 L791.2,1141.3 L685.2,1141.3 L683.0,1138.7 L680.3,1135.7 L677.6,1132.7 L674.9,1129.7 L672.2,1126.7 L669.5,1123.7 L666.7,1120.7 L663.9,1117.7 L661.1,1114.7 L658.3,1111.7 L655.5,1108.7 L652.7,1105.7 L649.9,1102.7 L647.2,1099.7 L644.4,1096.7 L641.7,1093.7 L639.0,1090.7 L636.4,1087.7 L633.8,1084.7 L631.2,1081.7 L628.7,1078.7 L626.3,1075.7 L623.9,1072.7 L621.6,1069.7 L619.3,1066.7 L617.2,1063.7 L615.1,1060.7 L613.1,1057.7 L611.2,1054.7 L609.4,1051.7 L607.6,1048.7 L606.0,1045.7 L604.5,1042.7 L603.1,1039.7 L601.8,1036.7 L600.6,1033.7 L599.4,1030.7 L598.4,1027.7 L597.4,1024.7 L596.5,1021.7 L595.7,1018.7 L595.0,1015.7 L594.3,1012.7 L593.7,1009.7 L593.2,1006.7 L592.8,1003.7 L592.4,1000.7 L592.1,997.7 L591.8,994.7 L591.6,991.7 L591.5,988.7 L591.4,985.7 L591.3,982.7 L591.3,979.7 L591.4,976.7 L591.5,973.7 L591.6,970.7 L591.8,967.7 L592.0,964.7 L592.2,961.7 L592.5,958.7 L592.7,955.7 L593.1,952.7 L593.4,949.7 L593.7,946.7 L594.1,943.7 L594.5,940.7 L594.9,937.7 L595.4,934.7 L595.8,931.7 L596.3,928.7 L596.8,925.7 L597.4,922.7 L598.0,919.7 L598.6,916.7 L599.3,913.7 L600.0,910.7 L600.7,907.7 L601.5,904.7 L602.3,901.7 L603.2,898.7 L604.1,895.7 L605.0,892.7 L606.0,889.7 L607.0,886.7 L608.1,883.7 L609.2,880.7 L610.4,877.7 L611.6,874.7 L612.8,871.7 L614.1,868.7 L615.5,865.7 L616.9,862.7 L618.3,859.7 L619.8,856.7 L621.3,853.7 L622.8,850.7 L624.4,847.7 L626.0,844.7 L627.7,841.7 L629.4,838.7 L631.1,835.7 L632.9,832.7 L634.7,829.7 L636.5,826.7 L638.3,823.7 L640.1,820.7 L642.0,817.7 L643.9,814.7 L645.8,811.7 L647.7,808.7 L649.6,805.7 L651.6,802.7 L653.5,799.7 L655.4,796.7 L657.2,793.7 L659.1,790.7 L660.9,787.7 L662.6,784.7 L664.4,781.7 L666.0,778.7 L667.7,775.7 L669.2,772.7 L670.7,769.7 L672.1,766.7 L673.4,763.7 L674.7,760.7 L675.9,757.7 L677.0,754.7 L678.0,751.7 L679.0,748.7 L679.9,745.7 L680.7,742.7 L681.5,739.7 L682.2,736.7 L682.9,733.7 L683.6,730.7 L684.2,727.7 L684.8,724.7 L685.3,721.7 L685.9,718.7 L686.4,715.7 L686.9,712.7 L687.3,709.7 L687.8,706.7 L688.3,703.7 L688.7,700.7 L689.2,697.7 L689.6,694.7 L690.1,691.7 L690.6,688.7 L691.1,685.7 L691.6,682.7 L692.2,679.7 L692.8,676.7 L693.4,673.7 L694.0,670.7 L694.7,667.7 L695.4,664.7 L696.2,661.7 L696.9,658.7 L697.7,655.7 L698.5,652.7 L699.4,649.7 L700.2,646.7 L701.1,643.7 L701.9,640.7 L702.8,637.7 L703.7,634.7 L704.6,631.7 L705.4,628.7 L706.3,625.7 L707.1,622.7 L708.0,619.7 L708.8,616.7 L709.6,613.7 L710.4,610.7 L711.1,607.7 L711.8,604.7 L712.5,601.7 L713.1,598.7 L713.7,595.7 L714.2,592.7 L714.7,589.7 L715.1,586.7 L715.5,583.7 L715.8,580.7 L716.1,577.7 L716.4,574.7 L716.6,571.7 L716.8,568.7 L716.9,565.7 L717.0,562.7 L717.1,559.7 L717.2,556.7 L717.2,553.7 L717.2,550.7 L717.2,547.7 L717.2,544.7 L717.1,541.7 L717.1,538.7 L717.1,535.7 L717.0,532.7 L717.0,529.7 L717.0,526.7 L717.0,523.7 L717.0,520.7 L717.0,517.7 L717.0,514.7 L717.1,511.7 L717.2,508.7 L717.3,505.7 L717.4,502.7 L717.6,499.7 L717.8,496.7 L718.0,493.7 L718.2,490.7 L718.5,487.7 L718.8,484.7 L719.1,481.7 L719.4,478.7 L719.7,475.7 L720.1,472.7 L720.5,469.7 L720.8,466.7 L721.2,463.7 L721.6,460.7 L722.1,457.7 L722.5,454.7 L722.9,451.7 L723.3,448.7 L723.8,445.7 L724.2,442.7 L724.7,439.7 L725.1,436.7 L725.6,433.7 L726.0,430.7 L726.5,427.7 L726.9,424.7 L727.4,421.7 L727.8,418.7 L728.2,415.7 L728.6,412.7 L729.1,409.7 L729.5,406.7 L729.8,403.7 L730.2,400.7 L730.6,397.7 L730.9,394.7 L731.3,391.7 L731.6,388.7 L731.9,385.7 L732.2,382.7 L732.5,379.7 L732.8,376.7 L733.1,373.7 L733.4,370.7 L733.6,367.7 L733.9,364.7 L734.1,361.7 L734.3,358.7 L734.5,355.7 L734.7,352.7 L734.9,349.7 L735.1,346.7 L735.3,343.7 L735.5,340.7 L735.6,337.7 L735.8,334.7 L735.9,331.7 L736.0,328.7 L736.1,325.7 L736.2,322.7 L736.3,319.7 L736.4,316.7 L736.5,313.7 L736.6,310.7 L736.6,307.7 L736.7,304.7 L736.7,301.7 L736.7,298.7 L736.8,295.7 L736.8,292.7 L736.8,289.7 L736.8,286.7 L736.8,283.7 L736.8,280.7 L736.8,277.7 L736.8,274.7 L736.7,271.7 L736.7,268.7 L736.7,265.7 L736.6,262.7 L736.6,259.7 L736.5,256.7 L736.5,253.7 L736.4,250.7 L736.3,247.7 L736.3,244.7 L736.2,241.7 L736.1,238.7 L736.0,235.7 L736.0,232.7 L735.9,229.7 L735.8,226.7 L735.7,223.7 L735.6,220.7 L735.5,217.7 L735.4,214.7 L735.3,211.7 L735.2,208.7 L735.1,205.7 L735.0,202.7 L734.9,199.7 L734.8,196.7 L734.7,193.7 L734.6,190.7 L734.5,187.7 L734.4,184.7 L734.3,181.7 L734.2,178.7 L734.1,175.7 L734.0,172.7 L733.9,169.7 L733.8,166.7 L733.7,163.7 L733.6,160.7 Z" fill="none" stroke="#00BFC4" stroke-width="4.15" stroke-linejoin="miter" stroke-miterlimit="10"/>
<path d="M1231.3,160.4 L1231.5,163.4 L1231.6,166.4 L1231.8,169.4 L1232.0,172.4 L1232.3,175.4 L1232.5,178.4 L1232.7,181.4 L1233.0,184.4 L1233.3,187.4 L1233.6,190.4 L1233.9,193.4 L1234.2,196.4 L1234.5,199.4 L1234.9,202.4 L1235.2,205.4 L1235.6,208.4 L1235.9,211.4 L1236.3,214.4 L1236.7,217.4 L1237.1,220.4 L1237.5,223.4 L1238.0,226.4 L1238.4,229.4 L1238.9,232.4 L1239.3,235.4 L1239.8,238.4 L1240.3,241.4 L1240.7,244.4 L1241.2,247.4 L1241.7,250.4 L1242.2,253.4 L1242.8,256.4 L1243.3,259.4 L1243.8,262.4 L1244.4,265.4 L1244.9,268.4 L1245.5,271.4 L1246.0,274.4 L1246.6,277.4 L1247.2,280.4 L1247.8,283.4 L1248.4,286.4 L1249.0,289.4 L1249.6,292.4 L1250.2,295.4 L1250.8,298.4 L1251.4,301.4 L1252.0,304.4 L1252.6,307.4 L1253.3,310.4 L1253.9,313.4 L1254.6,316.4 L1255.2,319.4 L1255.8,322.4 L1256.5,325.4 L1257.1,328.4 L1257.8,331.4 L1258.5,334.4 L1259.1,337.4 L1259.8,340.4 L1260.4,343.4 L1261.1,346.4 L1261.8,349.4 L1262.5,352.4 L1263.1,355.4 L1263.8,358.4 L1264.5,361.4 L1265.1,364.4 L1265.8,367.4 L1266.5,370.4 L1267.2,373.4 L1267.8,376.4 L1268.5,379.4 L1269.2,382.4 L1269.8,385.4 L1270.5,388.4 L1271.2,391.4 L1271.9,394.4 L1272.5,397.4 L1273.2,400.4 L1273.8,403.4 L1274.5,406.4 L1275.2,409.4 L1275.8,412.4 L1276.5,415.4 L1277.1,418.4 L1277.7,421.4 L1278.4,424.4 L1279.0,427.4 L1279.6,430.4 L1280.3,433.4 L1280.9,436.4 L1281.5,439.4 L1282.1,442.4 L1282.7,445.4 L1283.3,448.4 L1283.9,451.4 L1284.5,454.4 L1285.1,457.4 L1285.7,460.4 L1286.2,463.4 L1286.8,466.4 L1287.4,469.4 L1287.9,472.4 L1288.5,475.4 L1289.0,478.4 L1289.6,481.4 L1290.1,484.4 L1290.6,487.4 L1291.1,490.4 L1291.6,493.4 L1292.1,496.4 L1292.6,499.4 L1293.1,502.4 L1293.6,505.4 L1294.1,508.4 L1294.5,511.4 L1295.0,514.4 L1295.5,517.4 L1295.9,520.4 L1296.3,523.4 L1296.8,526.4 L1297.2,529.4 L1297.6,532.4 L1298.0,535.4 L1298.4,538.4 L1298.7,541.4 L1299.1,544.4 L1299.5,547.4 L1299.8,550.4 L1300.2,553.4 L1300.5,556.4 L1300.8,559.4 L1301.1,562.4 L1301.4,565.4 L1301.7,568.4 L1302.0,571.4 L1302.3,574.4 L1302.5,577.4 L1302.8,580.4 L1303.0,583.4 L1303.2,586.4 L1303.5,589.4 L1303.7,592.4 L1303.9,595.4 L1304.0,598.4 L1304.2,601.4 L1304.4,604.4 L1304.5,607.4 L1304.6,610.4 L1304.8,613.4 L1304.9,616.4 L1305.0,619.4 L1305.1,622.4 L1305.1,625.4 L1305.2,628.4 L1305.2,631.4 L1305.3,634.4 L1305.3,637.4 L1305.3,640.4 L1305.3,643.4 L1305.3,646.4 L1305.2,649.4 L1305.2,652.4 L1305.1,655.4 L1305.0,658.4 L1304.9,661.4 L1304.8,664.4 L1304.7,667.4 L1304.6,670.4 L1304.4,673.4 L1304.3,676.4 L1304.1,679.4 L1303.9,682.4 L1303.7,685.4 L1303.5,688.4 L1303.3,691.4 L1303.1,694.4 L1302.9,697.4 L1302.6,700.4 L1302.4,703.4 L1302.2,706.4 L1301.9,709.4 L1301.6,712.4 L1301.4,715.4 L1301.1,718.4 L1300.8,721.4 L1300.6,724.4 L1300.3,727.4 L1300.0,730.4 L1299.7,733.4 L1299.4,736.4 L1299.1,739.4 L1298.9,742.4 L1298.6,745.4 L1298.3,748.4 L1298.0,751.4 L1297.7,754.4 L1297.5,757.4 L1297.2,760.4 L1296.9,763.4 L1296.7,766.4 L1296.4,769.4 L1296.2,772.4 L1295.9,775.4 L1295.7,778.4 L1295.4,781.4 L1295.2,784.4 L1295.0,787.4 L1294.8,790.4 L1294.6,793.4 L1294.4,796.4 L1294.2,799.4 L1294.1,802.4 L1293.9,805.4 L1293.8,808.4 L1293.7,811.4 L1293.5,814.4 L1293.4,817.4 L1293.3,820.4 L1293.3,823.4 L1293.2,826.4 L1293.2,829.4 L1293.2,832.4 L1293.1,835.4 L1293.1,838.4 L1293.2,841.4 L1293.2,844.4 L1293.3,847.4 L1293.3,850.4 L1293.4,853.4 L1293.5,856.4 L1293.6,859.4 L1293.8,862.4 L1293.9,865.4 L1294.1,868.4 L1294.3,871.4 L1294.5,874.4 L1294.7,877.4 L1294.9,880.4 L1295.2,883.4 L1295.4,886.4 L1295.7,889.4 L1296.0,892.4 L1296.4,895.4 L1296.7,898.4 L1297.1,901.4 L1297.5,904.4 L1297.9,907.4 L1298.3,910.4 L1298.7,913.4 L1299.2,916.4 L1299.7,919.4 L1300.2,922.4 L1300.7,925.4 L1301.3,928.4 L1301.8,931.4 L1302.4,934.4 L1303.0,937.4 L1303.6,940.4 L1304.2,943.4 L1304.9,946.4 L1305.5,949.4 L1306.2,952.4 L1306.8,955.4 L1307.5,958.4 L1308.2,961.4 L1308.9,964.4 L1309.6,967.4 L1310.3,970.4 L1310.9,973.4 L1311.6,976.4 L1312.3,979.4 L1313.0,982.4 L1313.7,985.4 L1314.3,988.4 L1315.0,991.4 L1315.6,994.4 L1316.3,997.4 L1316.9,1000.4 L1317.5,1003.4 L1318.1,1006.4 L1318.7,1009.4 L1319.3,1012.4 L1319.8,1015.4 L1320.3,1018.4 L1320.8,1021.4 L1321.3,1024.4 L1321.7,1027.4 L1322.2,1030.4 L1322.6,1033.4 L1322.9,1036.4 L1323.3,1039.4 L1323.6,1042.4 L1323.9,1045.4 L1324.1,1048.4 L1324.3,1051.4 L1324.5,1054.4 L1324.6,1057.4 L1324.7,1060.4 L1324.8,1063.4 L1324.8,1066.4 L1324.7,1069.4 L1324.7,1072.4 L1324.5,1075.4 L1324.4,1078.4 L1324.2,1081.4 L1323.9,1084.4 L1323.6,1087.4 L1323.3,1090.4 L1322.9,1093.4 L1322.4,1096.4 L1321.9,1099.4 L1321.4,1102.4 L1320.7,1105.4 L1320.1,1108.4 L1319.4,1111.4 L1318.6,1114.4 L1317.8,1117.4 L1316.9,1120.4 L1315.9,1123.4 L1314.9,1126.4 L1313.8,1129.4 L1312.7,1132.4 L1311.5,1135.4 L1311.1,1136.4 L1128.7,1136.4 L1128.3,1135.4 L1127.1,1132.4 L1126.0,1129.4 L1124.9,1126.4 L1123.9,1123.4 L1122.9,1120.4 L1122.0,1117.4 L1121.2,1114.4 L1120.4,1111.4 L1119.7,1108.4 L1119.1,1105.4 L1118.4,1102.4 L1117.9,1099.4 L1117.4,1096.4 L1116.9,1093.4 L1116.5,1090.4 L1116.2,1087.4 L1115.9,1084.4 L1115.6,1081.4 L1115.4,1078.4 L1115.3,1075.4 L1115.1,1072.4 L1115.1,1069.4 L1115.0,1066.4 L1115.0,1063.4 L1115.1,1060.4 L1115.2,1057.4 L1115.3,1054.4 L1115.5,1051.4 L1115.7,1048.4 L1115.9,1045.4 L1116.2,1042.4 L1116.5,1039.4 L1116.9,1036.4 L1117.2,1033.4 L1117.6,1030.4 L1118.1,1027.4 L1118.5,1024.4 L1119.0,1021.4 L1119.5,1018.4 L1120.0,1015.4 L1120.5,1012.4 L1121.1,1009.4 L1121.7,1006.4 L1122.3,1003.4 L1122.9,1000.4 L1123.5,997.4 L1124.2,994.4 L1124.8,991.4 L1125.5,988.4 L1126.1,985.4 L1126.8,982.4 L1127.5,979.4 L1128.2,976.4 L1128.9,973.4 L1129.5,970.4 L1130.2,967.4 L1130.9,964.4 L1131.6,961.4 L1132.3,958.4 L1133.0,955.4 L1133.6,952.4 L1134.3,949.4 L1134.9,946.4 L1135.6,943.4 L1136.2,940.4 L1136.8,937.4 L1137.4,934.4 L1138.0,931.4 L1138.5,928.4 L1139.1,925.4 L1139.6,922.4 L1140.1,919.4 L1140.6,916.4 L1141.1,913.4 L1141.5,910.4 L1141.9,907.4 L1142.3,904.4 L1142.7,901.4 L1143.1,898.4 L1143.4,895.4 L1143.8,892.4 L1144.1,889.4 L1144.4,886.4 L1144.6,883.4 L1144.9,880.4 L1145.1,877.4 L1145.3,874.4 L1145.5,871.4 L1145.7,868.4 L1145.9,865.4 L1146.0,862.4 L1146.2,859.4 L1146.3,856.4 L1146.4,853.4 L1146.5,850.4 L1146.5,847.4 L1146.6,844.4 L1146.6,841.4 L1146.7,838.4 L1146.7,835.4 L1146.6,832.4 L1146.6,829.4 L1146.6,826.4 L1146.5,823.4 L1146.5,820.4 L1146.4,817.4 L1146.3,814.4 L1146.1,811.4 L1146.0,808.4 L1145.9,805.4 L1145.7,802.4 L1145.6,799.4 L1145.4,796.4 L1145.2,793.4 L1145.0,790.4 L1144.8,787.4 L1144.6,784.4 L1144.4,781.4 L1144.1,778.4 L1143.9,775.4 L1143.6,772.4 L1143.4,769.4 L1143.1,766.4 L1142.9,763.4 L1142.6,760.4 L1142.3,757.4 L1142.1,754.4 L1141.8,751.4 L1141.5,748.4 L1141.2,745.4 L1140.9,742.4 L1140.7,739.4 L1140.4,736.4 L1140.1,733.4 L1139.8,730.4 L1139.5,727.4 L1139.2,724.4 L1139.0,721.4 L1138.7,718.4 L1138.4,715.4 L1138.2,712.4 L1137.9,709.4 L1137.6,706.4 L1137.4,703.4 L1137.2,700.4 L1136.9,697.4 L1136.7,694.4 L1136.5,691.4 L1136.3,688.4 L1136.1,685.4 L1135.9,682.4 L1135.7,679.4 L1135.5,676.4 L1135.4,673.4 L1135.2,670.4 L1135.1,667.4 L1135.0,664.4 L1134.9,661.4 L1134.8,658.4 L1134.7,655.4 L1134.6,652.4 L1134.6,649.4 L1134.5,646.4 L1134.5,643.4 L1134.5,640.4 L1134.5,637.4 L1134.5,634.4 L1134.6,631.4 L1134.6,628.4 L1134.7,625.4 L1134.7,622.4 L1134.8,619.4 L1134.9,616.4 L1135.0,613.4 L1135.2,610.4 L1135.3,607.4 L1135.4,604.4 L1135.6,601.4 L1135.8,598.4 L1135.9,595.4 L1136.1,592.4 L1136.3,589.4 L1136.6,586.4 L1136.8,583.4 L1137.0,580.4 L1137.3,577.4 L1137.5,574.4 L1137.8,571.4 L1138.1,568.4 L1138.4,565.4 L1138.7,562.4 L1139.0,559.4 L1139.3,556.4 L1139.6,553.4 L1140.0,550.4 L1140.3,547.4 L1140.7,544.4 L1141.1,541.4 L1141.4,538.4 L1141.8,535.4 L1142.2,532.4 L1142.6,529.4 L1143.0,526.4 L1143.5,523.4 L1143.9,520.4 L1144.3,517.4 L1144.8,514.4 L1145.3,511.4 L1145.7,508.4 L1146.2,505.4 L1146.7,502.4 L1147.2,499.4 L1147.7,496.4 L1148.2,493.4 L1148.7,490.4 L1149.2,487.4 L1149.7,484.4 L1150.2,481.4 L1150.8,478.4 L1151.3,475.4 L1151.9,472.4 L1152.4,469.4 L1153.0,466.4 L1153.6,463.4 L1154.1,460.4 L1154.7,457.4 L1155.3,454.4 L1155.9,451.4 L1156.5,448.4 L1157.1,445.4 L1157.7,442.4 L1158.3,439.4 L1158.9,436.4 L1159.5,433.4 L1160.2,430.4 L1160.8,427.4 L1161.4,424.4 L1162.1,421.4 L1162.7,418.4 L1163.3,415.4 L1164.0,412.4 L1164.6,409.4 L1165.3,406.4 L1166.0,403.4 L1166.6,400.4 L1167.3,397.4 L1167.9,394.4 L1168.6,391.4 L1169.3,388.4 L1170.0,385.4 L1170.6,382.4 L1171.3,379.4 L1172.0,376.4 L1172.6,373.4 L1173.3,370.4 L1174.0,367.4 L1174.7,364.4 L1175.3,361.4 L1176.0,358.4 L1176.7,355.4 L1177.3,352.4 L1178.0,349.4 L1178.7,346.4 L1179.4,343.4 L1180.0,340.4 L1180.7,337.4 L1181.3,334.4 L1182.0,331.4 L1182.7,328.4 L1183.3,325.4 L1184.0,322.4 L1184.6,319.4 L1185.2,316.4 L1185.9,313.4 L1186.5,310.4 L1187.2,307.4 L1187.8,304.4 L1188.4,301.4 L1189.0,298.4 L1189.6,295.4 L1190.2,292.4 L1190.8,289.4 L1191.4,286.4 L1192.0,283.4 L1192.6,280.4 L1193.2,277.4 L1193.8,274.4 L1194.3,271.4 L1194.9,268.4 L1195.4,265.4 L1196.0,262.4 L1196.5,259.4 L1197.0,256.4 L1197.6,253.4 L1198.1,250.4 L1198.6,247.4 L1199.1,244.4 L1199.5,241.4 L1200.0,238.4 L1200.5,235.4 L1200.9,232.4 L1201.4,229.4 L1201.8,226.4 L1202.3,223.4 L1202.7,220.4 L1203.1,217.4 L1203.5,214.4 L1203.9,211.4 L1204.2,208.4 L1204.6,205.4 L1204.9,202.4 L1205.3,199.4 L1205.6,196.4 L1205.9,193.4 L1206.2,190.4 L1206.5,187.4 L1206.8,184.4 L1207.1,181.4 L1207.3,178.4 L1207.5,175.4 L1207.8,172.4 L1208.0,169.4 L1208.2,166.4 L1208.3,163.4 L1208.5,160.4 Z" fill="none" stroke="#F8766D" stroke-width="4.15" stroke-linejoin="miter" stroke-miterlimit="10"/>
<path d="M1558.9,252.9 L1559.3,255.9 L1559.6,258.9 L1560.0,261.9 L1560.5,264.9 L1560.9,267.9 L1561.4,270.9 L1561.9,273.9 L1562.5,276.9 L1563.0,279.9 L1563.6,282.9 L1564.2,285.9 L1564.8,288.9 L1565.5,291.9 L1566.1,294.9 L1566.8,297.9 L1567.5,300.9 L1568.2,303.9 L1568.9,306.9 L1569.7,309.9 L1570.4,312.9 L1571.2,315.9 L1572.0,318.9 L1572.8,321.9 L1573.6,324.9 L1574.4,327.9 L1575.2,330.9 L1576.0,333.9 L1576.8,336.9 L1577.7,339.9 L1578.5,342.9 L1579.3,345.9 L1580.2,348.9 L1581.0,351.9 L1581.9,354.9 L1582.7,357.9 L1583.6,360.9 L1584.5,363.9 L1585.3,366.9 L1586.1,369.9 L1587.0,372.9 L1587.8,375.9 L1588.7,378.9 L1589.5,381.9 L1590.3,384.9 L1591.1,387.9 L1591.9,390.9 L1592.7,393.9 L1593.5,396.9 L1594.3,399.9 L1595.0,402.9 L1595.8,405.9 L1596.5,408.9 L1597.3,411.9 L1598.0,414.9 L1598.7,417.9 L1599.3,420.9 L1600.0,423.9 L1600.6,426.9 L1601.3,429.9 L1601.9,432.9 L1602.5,435.9 L1603.1,438.9 L1603.7,441.9 L1604.2,444.9 L1604.8,447.9 L1605.3,450.9 L1605.8,453.9 L1606.3,456.9 L1606.8,459.9 L1607.3,462.9 L1607.7,465.9 L1608.1,468.9 L1608.5,471.9 L1608.9,474.9 L1609.3,477.9 L1609.7,480.9 L1610.0,483.9 L1610.3,486.9 L1610.6,489.9 L1610.9,492.9 L1611.2,495.9 L1611.4,498.9 L1611.7,501.9 L1611.9,504.9 L1612.1,507.9 L1612.3,510.9 L1612.4,513.9 L1612.5,516.9 L1612.7,519.9 L1612.8,522.9 L1612.8,525.9 L1612.9,528.9 L1612.9,531.9 L1612.9,534.9 L1612.9,537.9 L1612.9,540.9 L1612.9,543.9 L1612.8,546.9 L1612.7,549.9 L1612.6,552.9 L1612.5,555.9 L1612.4,558.9 L1612.2,561.9 L1612.1,564.9 L1611.9,567.9 L1611.7,570.9 L1611.5,573.9 L1611.3,576.9 L1611.1,579.9 L1610.9,582.9 L1610.6,585.9 L1610.4,588.9 L1610.2,591.9 L1609.9,594.9 L1609.6,597.9 L1609.4,600.9 L1609.1,603.9 L1608.9,606.9 L1608.6,609.9 L1608.3,612.9 L1608.1,615.9 L1607.8,618.9 L1607.5,621.9 L1607.3,624.9 L1607.0,627.9 L1606.8,630.9 L1606.5,633.9 L1606.3,636.9 L1606.0,639.9 L1605.8,642.9 L1605.6,645.9 L1605.4,648.9 L1605.2,651.9 L1605.0,654.9 L1604.8,657.9 L1604.6,660.9 L1604.5,663.9 L1604.3,666.9 L1604.2,669.9 L1604.1,672.9 L1604.0,675.9 L1603.9,678.9 L1603.8,681.9 L1603.7,684.9 L1603.7,687.9 L1603.6,690.9 L1603.6,693.9 L1603.6,696.9 L1603.6,699.9 L1603.6,702.9 L1603.6,705.9 L1603.6,708.9 L1603.7,711.9 L1603.7,714.9 L1603.8,717.9 L1603.9,720.9 L1604.0,723.9 L1604.1,726.9 L1604.2,729.9 L1604.4,732.9 L1604.5,735.9 L1604.7,738.9 L1604.8,741.9 L1605.0,744.9 L1605.2,747.9 L1605.4,750.9 L1605.6,753.9 L1605.9,756.9 L1606.1,759.9 L1606.4,762.9 L1606.7,765.9 L1606.9,768.9 L1607.2,771.9 L1607.5,774.9 L1607.8,777.9 L1608.2,780.9 L1608.5,783.9 L1608.9,786.9 L1609.2,789.9 L1609.6,792.9 L1610.0,795.9 L1610.4,798.9 L1610.8,801.9 L1611.3,804.9 L1611.7,807.9 L1612.1,810.9 L1612.6,813.9 L1613.1,816.9 L1613.6,819.9 L1614.1,822.9 L1614.6,825.9 L1615.1,828.9 L1615.7,831.9 L1616.3,834.9 L1616.8,837.9 L1617.4,840.9 L1618.0,843.9 L1618.7,846.9 L1619.3,849.9 L1619.9,852.9 L1620.6,855.9 L1621.3,858.9 L1622.0,861.9 L1622.7,864.9 L1623.4,867.9 L1624.2,870.9 L1624.9,873.9 L1625.7,876.9 L1626.5,879.9 L1627.3,882.9 L1628.2,885.9 L1629.0,888.9 L1629.9,891.9 L1630.8,894.9 L1631.7,897.9 L1632.6,900.9 L1633.5,903.9 L1634.5,906.9 L1635.4,909.9 L1636.4,912.9 L1637.4,915.9 L1638.5,918.9 L1639.5,921.9 L1640.6,924.9 L1641.7,927.9 L1642.8,930.9 L1643.9,933.9 L1645.0,936.9 L1646.2,939.9 L1647.4,942.9 L1648.5,945.9 L1649.7,948.9 L1651.0,951.9 L1652.2,954.9 L1653.4,957.9 L1654.6,960.9 L1655.9,963.9 L1657.2,966.9 L1658.4,969.9 L1659.7,972.9 L1661.0,975.9 L1662.3,978.9 L1663.5,981.9 L1664.8,984.9 L1666.1,987.9 L1667.4,990.9 L1668.7,993.9 L1670.0,996.9 L1671.3,999.9 L1672.5,1002.9 L1673.8,1005.9 L1675.1,1008.9 L1676.3,1011.9 L1677.5,1014.9 L1678.7,1017.9 L1679.8,1020.9 L1680.9,1023.9 L1682.0,1026.9 L1683.0,1029.9 L1683.9,1032.9 L1684.8,1035.9 L1685.6,1038.9 L1686.4,1041.9 L1687.1,1044.9 L1687.7,1047.9 L1688.3,1050.9 L1688.7,1053.9 L1689.1,1056.9 L1689.5,1059.9 L1689.7,1062.9 L1689.9,1065.9 L1690.0,1068.9 L1690.0,1071.9 L1689.9,1074.9 L1689.7,1077.9 L1689.4,1080.9 L1689.0,1083.9 L1688.5,1086.9 L1687.9,1089.9 L1687.3,1092.9 L1686.5,1095.9 L1685.6,1098.9 L1684.7,1101.9 L1683.6,1104.9 L1682.5,1107.9 L1681.3,1110.9 L1680.0,1113.9 L1678.7,1116.9 L1677.3,1119.9 L1675.8,1122.9 L1674.2,1125.9 L1672.6,1128.9 L1671.0,1131.9 L1669.3,1134.9 L1667.6,1137.9 L1665.8,1140.9 L1664.0,1143.9 L1662.1,1146.9 L1660.2,1149.9 L1658.3,1152.9 L1657.0,1155.0 L1430.8,1155.0 L1429.5,1152.9 L1427.6,1149.9 L1425.7,1146.9 L1423.8,1143.9 L1422.0,1140.9 L1420.2,1137.9 L1418.5,1134.9 L1416.8,1131.9 L1415.2,1128.9 L1413.6,1125.9 L1412.0,1122.9 L1410.5,1119.9 L1409.1,1116.9 L1407.8,1113.9 L1406.5,1110.9 L1405.3,1107.9 L1404.2,1104.9 L1403.1,1101.9 L1402.2,1098.9 L1401.3,1095.9 L1400.5,1092.9 L1399.9,1089.9 L1399.3,1086.9 L1398.8,1083.9 L1398.4,1080.9 L1398.1,1077.9 L1397.9,1074.9 L1397.8,1071.9 L1397.8,1068.9 L1397.9,1065.9 L1398.1,1062.9 L1398.3,1059.9 L1398.7,1056.9 L1399.1,1053.9 L1399.5,1050.9 L1400.1,1047.9 L1400.7,1044.9 L1401.4,1041.9 L1402.2,1038.9 L1403.0,1035.9 L1403.9,1032.9 L1404.8,1029.9 L1405.8,1026.9 L1406.9,1023.9 L1408.0,1020.9 L1409.1,1017.9 L1410.3,1014.9 L1411.5,1011.9 L1412.7,1008.9 L1414.0,1005.9 L1415.3,1002.9 L1416.5,999.9 L1417.8,996.9 L1419.1,993.9 L1420.4,990.9 L1421.7,987.9 L1423.0,984.9 L1424.3,981.9 L1425.5,978.9 L1426.8,975.9 L1428.1,972.9 L1429.4,969.9 L1430.6,966.9 L1431.9,963.9 L1433.2,960.9 L1434.4,957.9 L1435.6,954.9 L1436.8,951.9 L1438.1,948.9 L1439.3,945.9 L1440.4,942.9 L1441.6,939.9 L1442.8,936.9 L1443.9,933.9 L1445.0,930.9 L1446.1,927.9 L1447.2,924.9 L1448.3,921.9 L1449.3,918.9 L1450.4,915.9 L1451.4,912.9 L1452.4,909.9 L1453.3,906.9 L1454.3,903.9 L1455.2,900.9 L1456.1,897.9 L1457.0,894.9 L1457.9,891.9 L1458.8,888.9 L1459.6,885.9 L1460.5,882.9 L1461.3,879.9 L1462.1,876.9 L1462.9,873.9 L1463.6,870.9 L1464.4,867.9 L1465.1,864.9 L1465.8,861.9 L1466.5,858.9 L1467.2,855.9 L1467.9,852.9 L1468.5,849.9 L1469.1,846.9 L1469.8,843.9 L1470.4,840.9 L1471.0,837.9 L1471.5,834.9 L1472.1,831.9 L1472.7,828.9 L1473.2,825.9 L1473.7,822.9 L1474.2,819.9 L1474.7,816.9 L1475.2,813.9 L1475.7,810.9 L1476.1,807.9 L1476.5,804.9 L1477.0,801.9 L1477.4,798.9 L1477.8,795.9 L1478.2,792.9 L1478.6,789.9 L1478.9,786.9 L1479.3,783.9 L1479.6,780.9 L1480.0,777.9 L1480.3,774.9 L1480.6,771.9 L1480.9,768.9 L1481.1,765.9 L1481.4,762.9 L1481.7,759.9 L1481.9,756.9 L1482.2,753.9 L1482.4,750.9 L1482.6,747.9 L1482.8,744.9 L1483.0,741.9 L1483.1,738.9 L1483.3,735.9 L1483.4,732.9 L1483.6,729.9 L1483.7,726.9 L1483.8,723.9 L1483.9,720.9 L1484.0,717.9 L1484.1,714.9 L1484.1,711.9 L1484.2,708.9 L1484.2,705.9 L1484.2,702.9 L1484.2,699.9 L1484.2,696.9 L1484.2,693.9 L1484.2,690.9 L1484.1,687.9 L1484.1,684.9 L1484.0,681.9 L1483.9,678.9 L1483.8,675.9 L1483.7,672.9 L1483.6,669.9 L1483.5,666.9 L1483.3,663.9 L1483.2,660.9 L1483.0,657.9 L1482.8,654.9 L1482.6,651.9 L1482.4,648.9 L1482.2,645.9 L1482.0,642.9 L1481.8,639.9 L1481.5,636.9 L1481.3,633.9 L1481.0,630.9 L1480.8,627.9 L1480.5,624.9 L1480.3,621.9 L1480.0,618.9 L1479.7,615.9 L1479.5,612.9 L1479.2,609.9 L1478.9,606.9 L1478.7,603.9 L1478.4,600.9 L1478.2,597.9 L1477.9,594.9 L1477.6,591.9 L1477.4,588.9 L1477.2,585.9 L1476.9,582.9 L1476.7,579.9 L1476.5,576.9 L1476.3,573.9 L1476.1,570.9 L1475.9,567.9 L1475.7,564.9 L1475.6,561.9 L1475.4,558.9 L1475.3,555.9 L1475.2,552.9 L1475.1,549.9 L1475.0,546.9 L1474.9,543.9 L1474.9,540.9 L1474.9,537.9 L1474.9,534.9 L1474.9,531.9 L1474.9,528.9 L1475.0,525.9 L1475.0,522.9 L1475.1,519.9 L1475.3,516.9 L1475.4,513.9 L1475.5,510.9 L1475.7,507.9 L1475.9,504.9 L1476.1,501.9 L1476.4,498.9 L1476.6,495.9 L1476.9,492.9 L1477.2,489.9 L1477.5,486.9 L1477.8,483.9 L1478.1,480.9 L1478.5,477.9 L1478.9,474.9 L1479.3,471.9 L1479.7,468.9 L1480.1,465.9 L1480.5,462.9 L1481.0,459.9 L1481.5,456.9 L1482.0,453.9 L1482.5,450.9 L1483.0,447.9 L1483.6,444.9 L1484.1,441.9 L1484.7,438.9 L1485.3,435.9 L1485.9,432.9 L1486.5,429.9 L1487.2,426.9 L1487.8,423.9 L1488.5,420.9 L1489.1,417.9 L1489.8,414.9 L1490.5,411.9 L1491.3,408.9 L1492.0,405.9 L1492.8,402.9 L1493.5,399.9 L1494.3,396.9 L1495.1,393.9 L1495.9,390.9 L1496.7,387.9 L1497.5,384.9 L1498.3,381.9 L1499.1,378.9 L1500.0,375.9 L1500.8,372.9 L1501.7,369.9 L1502.5,366.9 L1503.3,363.9 L1504.2,360.9 L1505.1,357.9 L1505.9,354.9 L1506.8,351.9 L1507.6,348.9 L1508.5,345.9 L1509.3,342.9 L1510.1,339.9 L1511.0,336.9 L1511.8,333.9 L1512.6,330.9 L1513.4,327.9 L1514.2,324.9 L1515.0,321.9 L1515.8,318.9 L1516.6,315.9 L1517.4,312.9 L1518.1,309.9 L1518.9,306.9 L1519.6,303.9 L1520.3,300.9 L1521.0,297.9 L1521.7,294.9 L1522.3,291.9 L1523.0,288.9 L1523.6,285.9 L1524.2,282.9 L1524.8,279.9 L1525.3,276.9 L1525.9,273.9 L1526.4,270.9 L1526.9,267.9 L1527.3,264.9 L1527.8,261.9 L1528.2,258.9 L1528.5,255.9 L1528.9,252.9 Z" fill="none" stroke="#00BFC4" stroke-width="4.15" stroke-linejoin="miter" stroke-miterlimit="10"/>
<path d="M2145.8,160.4 L2146.7,163.4 L2147.7,166.4 L2148.7,169.4 L2149.6,172.4 L2150.6,175.4 L2151.6,178.4 L2152.5,181.4 L2153.5,184.4 L2154.5,187.4 L2155.5,190.4 L2156.5,193.4 L2157.5,196.4 L2158.5,199.4 L2159.5,202.4 L2160.5,205.4 L2161.5,208.4 L2162.5,211.4 L2163.5,214.4 L2164.5,217.4 L2165.5,220.4 L2166.5,223.4 L2167.5,226.4 L2168.5,229.4 L2169.5,232.4 L2170.5,235.4 L2171.5,238.4 L2172.4,241.4 L2173.4,244.4 L2174.4,247.4 L2175.4,250.4 L2176.3,253.4 L2177.3,256.4 L2178.2,259.4 L2179.2,262.4 L2180.1,265.4 L2181.0,268.4 L2182.0,271.4 L2182.9,274.4 L2183.8,277.4 L2184.7,280.4 L2185.6,283.4 L2186.4,286.4 L2187.3,289.4 L2188.2,292.4 L2189.0,295.4 L2189.8,298.4 L2190.7,301.4 L2191.5,304.4 L2192.3,307.4 L2193.1,310.4 L2193.8,313.4 L2194.6,316.4 L2195.3,319.4 L2196.1,322.4 L2196.8,325.4 L2197.5,328.4 L2198.1,331.4 L2198.8,334.4 L2199.5,337.4 L2200.1,340.4 L2200.7,343.4 L2201.3,346.4 L2201.9,349.4 L2202.4,352.4 L2203.0,355.4 L2203.5,358.4 L2204.0,361.4 L2204.5,364.4 L2204.9,367.4 L2205.4,370.4 L2205.8,373.4 L2206.2,376.4 L2206.6,379.4 L2206.9,382.4 L2207.2,385.4 L2207.5,388.4 L2207.8,391.4 L2208.1,394.4 L2208.3,397.4 L2208.5,400.4 L2208.7,403.4 L2208.8,406.4 L2209.0,409.4 L2209.1,412.4 L2209.1,415.4 L2209.2,418.4 L2209.2,421.4 L2209.2,424.4 L2209.2,427.4 L2209.1,430.4 L2209.0,433.4 L2208.9,436.4 L2208.7,439.4 L2208.5,442.4 L2208.3,445.4 L2208.1,448.4 L2207.8,451.4 L2207.5,454.4 L2207.2,457.4 L2206.9,460.4 L2206.5,463.4 L2206.1,466.4 L2205.7,469.4 L2205.3,472.4 L2204.8,475.4 L2204.3,478.4 L2203.8,481.4 L2203.3,484.4 L2202.8,487.4 L2202.2,490.4 L2201.6,493.4 L2201.1,496.4 L2200.4,499.4 L2199.8,502.4 L2199.2,505.4 L2198.5,508.4 L2197.8,511.4 L2197.1,514.4 L2196.4,517.4 L2195.7,520.4 L2195.0,523.4 L2194.2,526.4 L2193.5,529.4 L2192.7,532.4 L2191.9,535.4 L2191.1,538.4 L2190.3,541.4 L2189.5,544.4 L2188.7,547.4 L2187.9,550.4 L2187.1,553.4 L2186.2,556.4 L2185.4,559.4 L2184.5,562.4 L2183.7,565.4 L2182.8,568.4 L2181.9,571.4 L2181.0,574.4 L2180.2,577.4 L2179.3,580.4 L2178.4,583.4 L2177.5,586.4 L2176.6,589.4 L2175.8,592.4 L2174.9,595.4 L2174.0,598.4 L2173.1,601.4 L2172.2,604.4 L2171.3,607.4 L2170.5,610.4 L2169.6,613.4 L2168.7,616.4 L2167.9,619.4 L2167.0,622.4 L2166.2,625.4 L2165.3,628.4 L2164.5,631.4 L2163.6,634.4 L2162.8,637.4 L2162.0,640.4 L2161.2,643.4 L2160.4,646.4 L2159.6,649.4 L2158.8,652.4 L2158.0,655.4 L2157.3,658.4 L2156.5,661.4 L2155.8,664.4 L2155.1,667.4 L2154.4,670.4 L2153.7,673.4 L2153.0,676.4 L2152.3,679.4 L2151.7,682.4 L2151.1,685.4 L2150.4,688.4 L2149.9,691.4 L2149.3,694.4 L2148.7,697.4 L2148.2,700.4 L2147.7,703.4 L2147.2,706.4 L2146.7,709.4 L2146.2,712.4 L2145.8,715.4 L2145.4,718.4 L2145.0,721.4 L2144.6,724.4 L2144.3,727.4 L2144.0,730.4 L2143.7,733.4 L2143.4,736.4 L2143.2,739.4 L2143.0,742.4 L2142.8,745.4 L2142.6,748.4 L2142.5,751.4 L2142.4,754.4 L2142.3,757.4 L2142.2,760.4 L2142.2,763.4 L2142.2,766.4 L2142.2,769.4 L2142.3,772.4 L2142.4,775.4 L2142.4,778.4 L2142.6,781.4 L2142.7,784.4 L2142.9,787.4 L2143.1,790.4 L2143.3,793.4 L2143.5,796.4 L2143.8,799.4 L2144.1,802.4 L2144.4,805.4 L2144.7,808.4 L2145.1,811.4 L2145.5,814.4 L2145.9,817.4 L2146.3,820.4 L2146.8,823.4 L2147.2,826.4 L2147.7,829.4 L2148.2,832.4 L2148.8,835.4 L2149.3,838.4 L2149.9,841.4 L2150.5,844.4 L2151.1,847.4 L2151.7,850.4 L2152.4,853.4 L2153.0,856.4 L2153.7,859.4 L2154.4,862.4 L2155.1,865.4 L2155.9,868.4 L2156.6,871.4 L2157.4,874.4 L2158.1,877.4 L2158.9,880.4 L2159.7,883.4 L2160.5,886.4 L2161.3,889.4 L2162.1,892.4 L2163.0,895.4 L2163.8,898.4 L2164.6,901.4 L2165.5,904.4 L2166.3,907.4 L2167.2,910.4 L2168.1,913.4 L2168.9,916.4 L2169.8,919.4 L2170.6,922.4 L2171.5,925.4 L2172.4,928.4 L2173.2,931.4 L2174.1,934.4 L2175.0,937.4 L2175.8,940.4 L2176.7,943.4 L2177.5,946.4 L2178.4,949.4 L2179.2,952.4 L2180.0,955.4 L2180.8,958.4 L2181.7,961.4 L2182.5,964.4 L2183.3,967.4 L2184.0,970.4 L2184.8,973.4 L2185.6,976.4 L2186.3,979.4 L2187.1,982.4 L2187.8,985.4 L2188.5,988.4 L2189.2,991.4 L2189.9,994.4 L2190.5,997.4 L2191.2,1000.4 L2191.8,1003.4 L2192.4,1006.4 L2193.0,1009.4 L2193.6,1012.4 L2194.1,1015.4 L2194.7,1018.4 L2195.2,1021.4 L2195.7,1024.4 L2196.1,1027.4 L2196.6,1030.4 L2197.0,1033.4 L2197.4,1036.4 L2197.7,1039.4 L2198.1,1042.4 L2198.4,1045.4 L2198.7,1048.4 L2198.9,1051.4 L2199.1,1054.4 L2199.3,1057.4 L2199.5,1060.4 L2199.6,1063.4 L2199.8,1066.4 L2199.8,1069.4 L2199.9,1072.4 L2199.9,1075.4 L2199.9,1078.4 L2199.8,1081.4 L2199.7,1084.4 L2199.6,1087.4 L2199.5,1090.4 L2199.3,1093.4 L2199.1,1096.4 L2198.8,1099.4 L2198.5,1102.4 L2198.2,1105.4 L2197.8,1108.4 L2197.4,1111.4 L2197.0,1114.4 L2196.5,1117.4 L2196.0,1120.4 L2195.4,1123.4 L2194.8,1126.4 L2194.2,1129.4 L2193.5,1132.4 L2192.8,1135.4 L2192.0,1138.4 L2191.4,1140.9 L2004.4,1140.9 L2003.8,1138.4 L2003.0,1135.4 L2002.3,1132.4 L2001.6,1129.4 L2001.0,1126.4 L2000.4,1123.4 L1999.8,1120.4 L1999.3,1117.4 L1998.8,1114.4 L1998.4,1111.4 L1998.0,1108.4 L1997.6,1105.4 L1997.3,1102.4 L1997.0,1099.4 L1996.7,1096.4 L1996.5,1093.4 L1996.3,1090.4 L1996.2,1087.4 L1996.1,1084.4 L1996.0,1081.4 L1995.9,1078.4 L1995.9,1075.4 L1995.9,1072.4 L1996.0,1069.4 L1996.0,1066.4 L1996.2,1063.4 L1996.3,1060.4 L1996.5,1057.4 L1996.7,1054.4 L1996.9,1051.4 L1997.1,1048.4 L1997.4,1045.4 L1997.7,1042.4 L1998.1,1039.4 L1998.4,1036.4 L1998.8,1033.4 L1999.2,1030.4 L1999.7,1027.4 L2000.1,1024.4 L2000.6,1021.4 L2001.1,1018.4 L2001.7,1015.4 L2002.2,1012.4 L2002.8,1009.4 L2003.4,1006.4 L2004.0,1003.4 L2004.6,1000.4 L2005.3,997.4 L2005.9,994.4 L2006.6,991.4 L2007.3,988.4 L2008.0,985.4 L2008.7,982.4 L2009.5,979.4 L2010.2,976.4 L2011.0,973.4 L2011.8,970.4 L2012.5,967.4 L2013.3,964.4 L2014.1,961.4 L2015.0,958.4 L2015.8,955.4 L2016.6,952.4 L2017.4,949.4 L2018.3,946.4 L2019.1,943.4 L2020.0,940.4 L2020.8,937.4 L2021.7,934.4 L2022.6,931.4 L2023.4,928.4 L2024.3,925.4 L2025.2,922.4 L2026.0,919.4 L2026.9,916.4 L2027.7,913.4 L2028.6,910.4 L2029.5,907.4 L2030.3,904.4 L2031.2,901.4 L2032.0,898.4 L2032.8,895.4 L2033.7,892.4 L2034.5,889.4 L2035.3,886.4 L2036.1,883.4 L2036.9,880.4 L2037.7,877.4 L2038.4,874.4 L2039.2,871.4 L2039.9,868.4 L2040.7,865.4 L2041.4,862.4 L2042.1,859.4 L2042.8,856.4 L2043.4,853.4 L2044.1,850.4 L2044.7,847.4 L2045.3,844.4 L2045.9,841.4 L2046.5,838.4 L2047.0,835.4 L2047.6,832.4 L2048.1,829.4 L2048.6,826.4 L2049.0,823.4 L2049.5,820.4 L2049.9,817.4 L2050.3,814.4 L2050.7,811.4 L2051.1,808.4 L2051.4,805.4 L2051.7,802.4 L2052.0,799.4 L2052.3,796.4 L2052.5,793.4 L2052.7,790.4 L2052.9,787.4 L2053.1,784.4 L2053.2,781.4 L2053.4,778.4 L2053.4,775.4 L2053.5,772.4 L2053.6,769.4 L2053.6,766.4 L2053.6,763.4 L2053.6,760.4 L2053.5,757.4 L2053.4,754.4 L2053.3,751.4 L2053.2,748.4 L2053.0,745.4 L2052.8,742.4 L2052.6,739.4 L2052.4,736.4 L2052.1,733.4 L2051.8,730.4 L2051.5,727.4 L2051.2,724.4 L2050.8,721.4 L2050.4,718.4 L2050.0,715.4 L2049.6,712.4 L2049.1,709.4 L2048.6,706.4 L2048.1,703.4 L2047.6,700.4 L2047.1,697.4 L2046.5,694.4 L2045.9,691.4 L2045.4,688.4 L2044.7,685.4 L2044.1,682.4 L2043.5,679.4 L2042.8,676.4 L2042.1,673.4 L2041.4,670.4 L2040.7,667.4 L2040.0,664.4 L2039.3,661.4 L2038.5,658.4 L2037.8,655.4 L2037.0,652.4 L2036.2,649.4 L2035.4,646.4 L2034.6,643.4 L2033.8,640.4 L2033.0,637.4 L2032.2,634.4 L2031.3,631.4 L2030.5,628.4 L2029.6,625.4 L2028.8,622.4 L2027.9,619.4 L2027.1,616.4 L2026.2,613.4 L2025.3,610.4 L2024.5,607.4 L2023.6,604.4 L2022.7,601.4 L2021.8,598.4 L2020.9,595.4 L2020.0,592.4 L2019.2,589.4 L2018.3,586.4 L2017.4,583.4 L2016.5,580.4 L2015.6,577.4 L2014.8,574.4 L2013.9,571.4 L2013.0,568.4 L2012.1,565.4 L2011.3,562.4 L2010.4,559.4 L2009.6,556.4 L2008.7,553.4 L2007.9,550.4 L2007.1,547.4 L2006.3,544.4 L2005.5,541.4 L2004.7,538.4 L2003.9,535.4 L2003.1,532.4 L2002.3,529.4 L2001.6,526.4 L2000.8,523.4 L2000.1,520.4 L1999.4,517.4 L1998.7,514.4 L1998.0,511.4 L1997.3,508.4 L1996.6,505.4 L1996.0,502.4 L1995.4,499.4 L1994.7,496.4 L1994.2,493.4 L1993.6,490.4 L1993.0,487.4 L1992.5,484.4 L1992.0,481.4 L1991.5,478.4 L1991.0,475.4 L1990.5,472.4 L1990.1,469.4 L1989.7,466.4 L1989.3,463.4 L1988.9,460.4 L1988.6,457.4 L1988.3,454.4 L1988.0,451.4 L1987.7,448.4 L1987.5,445.4 L1987.3,442.4 L1987.1,439.4 L1986.9,436.4 L1986.8,433.4 L1986.7,430.4 L1986.6,427.4 L1986.6,424.4 L1986.6,421.4 L1986.6,418.4 L1986.7,415.4 L1986.7,412.4 L1986.8,409.4 L1987.0,406.4 L1987.1,403.4 L1987.3,400.4 L1987.5,397.4 L1987.7,394.4 L1988.0,391.4 L1988.3,388.4 L1988.6,385.4 L1988.9,382.4 L1989.2,379.4 L1989.6,376.4 L1990.0,373.4 L1990.4,370.4 L1990.9,367.4 L1991.3,364.4 L1991.8,361.4 L1992.3,358.4 L1992.8,355.4 L1993.4,352.4 L1993.9,349.4 L1994.5,346.4 L1995.1,343.4 L1995.7,340.4 L1996.3,337.4 L1997.0,334.4 L1997.7,331.4 L1998.3,328.4 L1999.0,325.4 L1999.7,322.4 L2000.5,319.4 L2001.2,316.4 L2002.0,313.4 L2002.7,310.4 L2003.5,307.4 L2004.3,304.4 L2005.1,301.4 L2006.0,298.4 L2006.8,295.4 L2007.6,292.4 L2008.5,289.4 L2009.4,286.4 L2010.2,283.4 L2011.1,280.4 L2012.0,277.4 L2012.9,274.4 L2013.8,271.4 L2014.8,268.4 L2015.7,265.4 L2016.6,262.4 L2017.6,259.4 L2018.5,256.4 L2019.5,253.4 L2020.4,250.4 L2021.4,247.4 L2022.4,244.4 L2023.4,241.4 L2024.3,238.4 L2025.3,235.4 L2026.3,232.4 L2027.3,229.4 L2028.3,226.4 L2029.3,223.4 L2030.3,220.4 L2031.3,217.4 L2032.3,214.4 L2033.3,211.4 L2034.3,208.4 L2035.3,205.4 L2036.3,202.4 L2037.3,199.4 L2038.3,196.4 L2039.3,193.4 L2040.3,190.4 L2041.3,187.4 L2042.3,184.4 L2043.3,181.4 L2044.2,178.4 L2045.2,175.4 L2046.2,172.4 L2047.1,169.4 L2048.1,166.4 L2049.1,163.4 L2050.0,160.4 Z" fill="none" stroke="#F8766D" stroke-width="4.15" stroke-linejoin="miter" stroke-miterlimit="10"/>
<path d="M2471.0,217.9 L2472.0,220.9 L2473.1,223.9 L2474.1,226.9 L2475.2,229.9 L2476.2,232.9 L2477.2,235.9 L2478.2,238.9 L2479.3,241.9 L2480.3,244.9 L2481.3,247.9 L2482.3,250.9 L2483.2,253.9 L2484.2,256.9 L2485.2,259.9 L2486.1,262.9 L2487.1,265.9 L2488.0,268.9 L2488.9,271.9 L2489.8,274.9 L2490.7,277.9 L2491.5,280.9 L2492.4,283.9 L2493.2,286.9 L2494.0,289.9 L2494.8,292.9 L2495.6,295.9 L2496.4,298.9 L2497.1,301.9 L2497.8,304.9 L2498.6,307.9 L2499.2,310.9 L2499.9,313.9 L2500.5,316.9 L2501.2,319.9 L2501.8,322.9 L2502.3,325.9 L2502.9,328.9 L2503.4,331.9 L2503.9,334.9 L2504.4,337.9 L2504.9,340.9 L2505.3,343.9 L2505.7,346.9 L2506.1,349.9 L2506.5,352.9 L2506.8,355.9 L2507.1,358.9 L2507.4,361.9 L2507.7,364.9 L2507.9,367.9 L2508.1,370.9 L2508.3,373.9 L2508.5,376.9 L2508.6,379.9 L2508.7,382.9 L2508.8,385.9 L2508.8,388.9 L2508.9,391.9 L2508.9,394.9 L2508.8,397.9 L2508.8,400.9 L2508.7,403.9 L2508.6,406.9 L2508.5,409.9 L2508.4,412.9 L2508.2,415.9 L2508.0,418.9 L2507.8,421.9 L2507.6,424.9 L2507.4,427.9 L2507.1,430.9 L2506.9,433.9 L2506.6,436.9 L2506.3,439.9 L2506.0,442.9 L2505.6,445.9 L2505.3,448.9 L2504.9,451.9 L2504.6,454.9 L2504.2,457.9 L2503.8,460.9 L2503.4,463.9 L2503.0,466.9 L2502.6,469.9 L2502.1,472.9 L2501.7,475.9 L2501.3,478.9 L2500.8,481.9 L2500.4,484.9 L2499.9,487.9 L2499.4,490.9 L2499.0,493.9 L2498.5,496.9 L2498.0,499.9 L2497.5,502.9 L2497.1,505.9 L2496.6,508.9 L2496.1,511.9 L2495.6,514.9 L2495.2,517.9 L2494.7,520.9 L2494.2,523.9 L2493.7,526.9 L2493.3,529.9 L2492.8,532.9 L2492.3,535.9 L2491.8,538.9 L2491.4,541.9 L2490.9,544.9 L2490.5,547.9 L2490.0,550.9 L2489.6,553.9 L2489.1,556.9 L2488.7,559.9 L2488.2,562.9 L2487.8,565.9 L2487.4,568.9 L2486.9,571.9 L2486.5,574.9 L2486.1,577.9 L2485.7,580.9 L2485.3,583.9 L2484.9,586.9 L2484.5,589.9 L2484.1,592.9 L2483.8,595.9 L2483.4,598.9 L2483.0,601.9 L2482.7,604.9 L2482.3,607.9 L2482.0,610.9 L2481.7,613.9 L2481.3,616.9 L2481.0,619.9 L2480.7,622.9 L2480.4,625.9 L2480.2,628.9 L2479.9,631.9 L2479.6,634.9 L2479.4,637.9 L2479.1,640.9 L2478.9,643.9 L2478.7,646.9 L2478.5,649.9 L2478.3,652.9 L2478.1,655.9 L2477.9,658.9 L2477.8,661.9 L2477.6,664.9 L2477.5,667.9 L2477.4,670.9 L2477.3,673.9 L2477.2,676.9 L2477.1,679.9 L2477.0,682.9 L2477.0,685.9 L2476.9,688.9 L2476.9,691.9 L2476.9,694.9 L2476.9,697.9 L2476.9,700.9 L2476.9,703.9 L2476.9,706.9 L2477.0,709.9 L2477.0,712.9 L2477.1,715.9 L2477.2,718.9 L2477.3,721.9 L2477.4,724.9 L2477.5,727.9 L2477.6,730.9 L2477.8,733.9 L2477.9,736.9 L2478.1,739.9 L2478.3,742.9 L2478.5,745.9 L2478.7,748.9 L2478.9,751.9 L2479.2,754.9 L2479.4,757.9 L2479.7,760.9 L2480.0,763.9 L2480.3,766.9 L2480.6,769.9 L2480.9,772.9 L2481.2,775.9 L2481.5,778.9 L2481.9,781.9 L2482.3,784.9 L2482.6,787.9 L2483.0,790.9 L2483.4,793.9 L2483.9,796.9 L2484.3,799.9 L2484.7,802.9 L2485.2,805.9 L2485.7,808.9 L2486.2,811.9 L2486.7,814.9 L2487.2,817.9 L2487.7,820.9 L2488.3,823.9 L2488.9,826.9 L2489.4,829.9 L2490.1,832.9 L2490.7,835.9 L2491.3,838.9 L2492.0,841.9 L2492.7,844.9 L2493.4,847.9 L2494.1,850.9 L2494.9,853.9 L2495.6,856.9 L2496.4,859.9 L2497.2,862.9 L2498.0,865.9 L2498.9,868.9 L2499.8,871.9 L2500.7,874.9 L2501.6,877.9 L2502.5,880.9 L2503.5,883.9 L2504.5,886.9 L2505.5,889.9 L2506.5,892.9 L2507.5,895.9 L2508.6,898.9 L2509.6,901.9 L2510.7,904.9 L2511.8,907.9 L2513.0,910.9 L2514.1,913.9 L2515.2,916.9 L2516.4,919.9 L2517.6,922.9 L2518.8,925.9 L2520.0,928.9 L2521.2,931.9 L2522.4,934.9 L2523.6,937.9 L2524.8,940.9 L2526.1,943.9 L2527.3,946.9 L2528.6,949.9 L2529.9,952.9 L2531.2,955.9 L2532.4,958.9 L2533.7,961.9 L2535.0,964.9 L2536.2,967.9 L2537.5,970.9 L2538.8,973.9 L2540.0,976.9 L2541.3,979.9 L2542.5,982.9 L2543.7,985.9 L2544.9,988.9 L2546.1,991.9 L2547.3,994.9 L2548.5,997.9 L2549.6,1000.9 L2550.8,1003.9 L2551.9,1006.9 L2552.9,1009.9 L2554.0,1012.9 L2555.0,1015.9 L2556.0,1018.9 L2557.0,1021.9 L2557.9,1024.9 L2558.9,1027.9 L2559.7,1030.9 L2560.6,1033.9 L2561.4,1036.9 L2562.1,1039.9 L2562.9,1042.9 L2563.5,1045.9 L2564.2,1048.9 L2564.8,1051.9 L2565.3,1054.9 L2565.8,1057.9 L2566.3,1060.9 L2566.7,1063.9 L2567.0,1066.9 L2567.3,1069.9 L2567.6,1072.9 L2567.8,1075.9 L2567.9,1078.9 L2568.0,1081.9 L2568.0,1084.9 L2567.9,1087.9 L2567.8,1090.9 L2567.6,1093.9 L2567.4,1096.9 L2567.1,1099.9 L2566.7,1102.9 L2566.2,1105.9 L2565.7,1108.9 L2565.1,1111.9 L2564.5,1114.9 L2563.7,1117.9 L2562.9,1120.9 L2562.0,1123.9 L2561.1,1126.9 L2560.0,1129.9 L2558.9,1132.9 L2557.7,1135.9 L2556.4,1138.9 L2555.0,1141.9 L2553.6,1144.9 L2552.1,1147.9 L2550.4,1150.9 L2548.7,1153.9 L2548.1,1155.0 L2296.1,1155.0 L2295.5,1153.9 L2293.8,1150.9 L2292.1,1147.9 L2290.6,1144.9 L2289.2,1141.9 L2287.8,1138.9 L2286.5,1135.9 L2285.3,1132.9 L2284.2,1129.9 L2283.1,1126.9 L2282.2,1123.9 L2281.3,1120.9 L2280.5,1117.9 L2279.7,1114.9 L2279.1,1111.9 L2278.5,1108.9 L2278.0,1105.9 L2277.5,1102.9 L2277.1,1099.9 L2276.8,1096.9 L2276.6,1093.9 L2276.4,1090.9 L2276.3,1087.9 L2276.2,1084.9 L2276.2,1081.9 L2276.3,1078.9 L2276.4,1075.9 L2276.6,1072.9 L2276.9,1069.9 L2277.2,1066.9 L2277.5,1063.9 L2277.9,1060.9 L2278.4,1057.9 L2278.9,1054.9 L2279.4,1051.9 L2280.0,1048.9 L2280.7,1045.9 L2281.3,1042.9 L2282.1,1039.9 L2282.8,1036.9 L2283.6,1033.9 L2284.5,1030.9 L2285.3,1027.9 L2286.3,1024.9 L2287.2,1021.9 L2288.2,1018.9 L2289.2,1015.9 L2290.2,1012.9 L2291.3,1009.9 L2292.3,1006.9 L2293.4,1003.9 L2294.6,1000.9 L2295.7,997.9 L2296.9,994.9 L2298.1,991.9 L2299.3,988.9 L2300.5,985.9 L2301.7,982.9 L2302.9,979.9 L2304.2,976.9 L2305.4,973.9 L2306.7,970.9 L2308.0,967.9 L2309.2,964.9 L2310.5,961.9 L2311.8,958.9 L2313.0,955.9 L2314.3,952.9 L2315.6,949.9 L2316.9,946.9 L2318.1,943.9 L2319.4,940.9 L2320.6,937.9 L2321.8,934.9 L2323.0,931.9 L2324.2,928.9 L2325.4,925.9 L2326.6,922.9 L2327.8,919.9 L2329.0,916.9 L2330.1,913.9 L2331.2,910.9 L2332.4,907.9 L2333.5,904.9 L2334.6,901.9 L2335.6,898.9 L2336.7,895.9 L2337.7,892.9 L2338.7,889.9 L2339.7,886.9 L2340.7,883.9 L2341.7,880.9 L2342.6,877.9 L2343.5,874.9 L2344.4,871.9 L2345.3,868.9 L2346.2,865.9 L2347.0,862.9 L2347.8,859.9 L2348.6,856.9 L2349.3,853.9 L2350.1,850.9 L2350.8,847.9 L2351.5,844.9 L2352.2,841.9 L2352.9,838.9 L2353.5,835.9 L2354.1,832.9 L2354.8,829.9 L2355.3,826.9 L2355.9,823.9 L2356.5,820.9 L2357.0,817.9 L2357.5,814.9 L2358.0,811.9 L2358.5,808.9 L2359.0,805.9 L2359.5,802.9 L2359.9,799.9 L2360.3,796.9 L2360.8,793.9 L2361.2,790.9 L2361.6,787.9 L2361.9,784.9 L2362.3,781.9 L2362.7,778.9 L2363.0,775.9 L2363.3,772.9 L2363.6,769.9 L2363.9,766.9 L2364.2,763.9 L2364.5,760.9 L2364.8,757.9 L2365.0,754.9 L2365.3,751.9 L2365.5,748.9 L2365.7,745.9 L2365.9,742.9 L2366.1,739.9 L2366.3,736.9 L2366.4,733.9 L2366.6,730.9 L2366.7,727.9 L2366.8,724.9 L2366.9,721.9 L2367.0,718.9 L2367.1,715.9 L2367.2,712.9 L2367.2,709.9 L2367.3,706.9 L2367.3,703.9 L2367.3,700.9 L2367.3,697.9 L2367.3,694.9 L2367.3,691.9 L2367.3,688.9 L2367.2,685.9 L2367.2,682.9 L2367.1,679.9 L2367.0,676.9 L2366.9,673.9 L2366.8,670.9 L2366.7,667.9 L2366.6,664.9 L2366.4,661.9 L2366.3,658.9 L2366.1,655.9 L2365.9,652.9 L2365.7,649.9 L2365.5,646.9 L2365.3,643.9 L2365.1,640.9 L2364.8,637.9 L2364.6,634.9 L2364.3,631.9 L2364.0,628.9 L2363.8,625.9 L2363.5,622.9 L2363.2,619.9 L2362.9,616.9 L2362.5,613.9 L2362.2,610.9 L2361.9,607.9 L2361.5,604.9 L2361.2,601.9 L2360.8,598.9 L2360.4,595.9 L2360.1,592.9 L2359.7,589.9 L2359.3,586.9 L2358.9,583.9 L2358.5,580.9 L2358.1,577.9 L2357.7,574.9 L2357.3,571.9 L2356.8,568.9 L2356.4,565.9 L2356.0,562.9 L2355.5,559.9 L2355.1,556.9 L2354.6,553.9 L2354.2,550.9 L2353.7,547.9 L2353.3,544.9 L2352.8,541.9 L2352.4,538.9 L2351.9,535.9 L2351.4,532.9 L2350.9,529.9 L2350.5,526.9 L2350.0,523.9 L2349.5,520.9 L2349.0,517.9 L2348.6,514.9 L2348.1,511.9 L2347.6,508.9 L2347.1,505.9 L2346.7,502.9 L2346.2,499.9 L2345.7,496.9 L2345.2,493.9 L2344.8,490.9 L2344.3,487.9 L2343.8,484.9 L2343.4,481.9 L2342.9,478.9 L2342.5,475.9 L2342.1,472.9 L2341.6,469.9 L2341.2,466.9 L2340.8,463.9 L2340.4,460.9 L2340.0,457.9 L2339.6,454.9 L2339.3,451.9 L2338.9,448.9 L2338.6,445.9 L2338.2,442.9 L2337.9,439.9 L2337.6,436.9 L2337.3,433.9 L2337.1,430.9 L2336.8,427.9 L2336.6,424.9 L2336.4,421.9 L2336.2,418.9 L2336.0,415.9 L2335.8,412.9 L2335.7,409.9 L2335.6,406.9 L2335.5,403.9 L2335.4,400.9 L2335.4,397.9 L2335.3,394.9 L2335.3,391.9 L2335.4,388.9 L2335.4,385.9 L2335.5,382.9 L2335.6,379.9 L2335.7,376.9 L2335.9,373.9 L2336.1,370.9 L2336.3,367.9 L2336.5,364.9 L2336.8,361.9 L2337.1,358.9 L2337.4,355.9 L2337.7,352.9 L2338.1,349.9 L2338.5,346.9 L2338.9,343.9 L2339.3,340.9 L2339.8,337.9 L2340.3,334.9 L2340.8,331.9 L2341.3,328.9 L2341.9,325.9 L2342.4,322.9 L2343.0,319.9 L2343.7,316.9 L2344.3,313.9 L2345.0,310.9 L2345.6,307.9 L2346.4,304.9 L2347.1,301.9 L2347.8,298.9 L2348.6,295.9 L2349.4,292.9 L2350.2,289.9 L2351.0,286.9 L2351.8,283.9 L2352.7,280.9 L2353.5,277.9 L2354.4,274.9 L2355.3,271.9 L2356.2,268.9 L2357.1,265.9 L2358.1,262.9 L2359.0,259.9 L2360.0,256.9 L2361.0,253.9 L2361.9,250.9 L2362.9,247.9 L2363.9,244.9 L2364.9,241.9 L2366.0,238.9 L2367.0,235.9 L2368.0,232.9 L2369.0,229.9 L2370.1,226.9 L2371.1,223.9 L2372.2,220.9 L2373.2,217.9 Z" fill="none" stroke="#00BFC4" stroke-width="4.15" stroke-linejoin="miter" stroke-miterlimit="10"/>
<rect x="220.6" y="111.8" width="710.9" height="1091.6" fill="none" stroke="#000" stroke-width="2.6"/>
<line x1="414.5" y1="1204.9" x2="414.5" y2="1233.8" stroke="#000" stroke-width="5.0" stroke-linecap="round"/>
<text class="b" transform="translate(395.6,1350.5) rotate(70)" text-anchor="middle" dominant-baseline="central" font-size="52.5">With</text>
<line x1="737.6" y1="1204.9" x2="737.6" y2="1233.8" stroke="#000" stroke-width="5.0" stroke-linecap="round"/>
<text class="b" transform="translate(720.6,1350.8) rotate(70)" text-anchor="middle" dominant-baseline="central" font-size="52.5">Without</text>
<rect x="1026.5" y="111.8" width="710.8" height="1091.6" fill="none" stroke="#000" stroke-width="2.6"/>
<line x1="1220.4" y1="1204.9" x2="1220.4" y2="1233.8" stroke="#000" stroke-width="5.0" stroke-linecap="round"/>
<text class="b" transform="translate(1201.5,1350.5) rotate(70)" text-anchor="middle" dominant-baseline="central" font-size="52.5">With</text>
<line x1="1543.4" y1="1204.9" x2="1543.4" y2="1233.8" stroke="#000" stroke-width="5.0" stroke-linecap="round"/>
<text class="b" transform="translate(1526.4,1350.8) rotate(70)" text-anchor="middle" dominant-baseline="central" font-size="52.5">Without</text>
<rect x="1904.5" y="111.8" width="711.0" height="1091.6" fill="none" stroke="#000" stroke-width="2.6"/>
<line x1="2098.4" y1="1204.9" x2="2098.4" y2="1233.8" stroke="#000" stroke-width="5.0" stroke-linecap="round"/>
<text class="b" transform="translate(2079.5,1350.5) rotate(70)" text-anchor="middle" dominant-baseline="central" font-size="52.5">With</text>
<line x1="2421.6" y1="1204.9" x2="2421.6" y2="1233.8" stroke="#000" stroke-width="5.0" stroke-linecap="round"/>
<text class="b" transform="translate(2404.6,1350.8) rotate(70)" text-anchor="middle" dominant-baseline="central" font-size="52.5">Without</text>
</svg></body></html>
